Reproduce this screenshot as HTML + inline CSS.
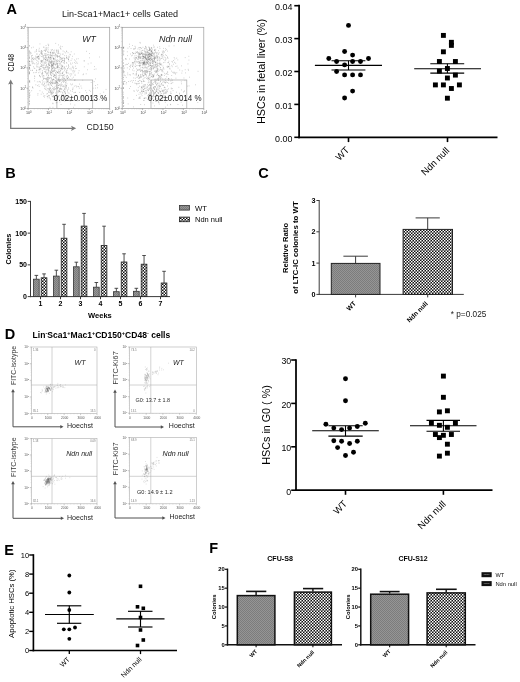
<!DOCTYPE html>
<html lang="en">
<head>
<meta charset="utf-8">
<title>Figure</title>
<style>
html,body{margin:0;padding:0;background:#fff;}
body{width:520px;height:682px;overflow:hidden;}
svg{display:block;font-family:"Liberation Sans",sans-serif;}
</style>
</head>
<body>
<svg width="520" height="682" viewBox="0 0 520 682">
<rect width="520" height="682" fill="#fff"/>
<defs>
<pattern id="chk" width="3" height="3" patternUnits="userSpaceOnUse">
<rect width="3" height="3" fill="#111"/><rect x="0" y="0" width="1.5" height="1.5" fill="#fff"/><rect x="1.5" y="1.5" width="1.5" height="1.5" fill="#fff"/>
</pattern>
<pattern id="chs" width="3" height="3" patternUnits="userSpaceOnUse">
<rect width="3" height="3" fill="#111"/><rect x="0" y="0" width="1.5" height="1.5" fill="#fff"/><rect x="1.5" y="1.5" width="1.5" height="1.5" fill="#fff"/>
</pattern>
<pattern id="gry" width="2" height="2" patternUnits="userSpaceOnUse">
<rect width="2" height="2" fill="#959595"/><rect x="0" y="0" width="1" height="1" fill="#7c7c7c"/><rect x="1" y="1" width="1" height="1" fill="#7c7c7c"/>
</pattern>
</defs>
<text x="6.60" y="14.00" font-size="14.5" font-weight="bold">A</text>
<text x="5.20" y="178.00" font-size="14.5" font-weight="bold">B</text>
<text x="258.30" y="178.40" font-size="14.5" font-weight="bold">C</text>
<text x="4.80" y="339.00" font-size="14.5" font-weight="bold">D</text>
<text x="4.30" y="555.20" font-size="14.5" font-weight="bold">E</text>
<text x="209.30" y="553.20" font-size="14.5" font-weight="bold">F</text>
<text x="62.00" y="17.40" font-size="9" fill="#161616" textLength="116.00" lengthAdjust="spacingAndGlyphs">Lin-Sca1+Mac1+ cells Gated</text>
<path d="M36.2 62.8h.7M59.5 56.6h.7M35.1 59.2h.7M54.1 69.3h.7M36.3 49.5h.7M56.5 64.4h.7M65.2 68.8h.7M48.0 58.1h.7M76.1 59.0h.7M40.9 50.9h.7M50.1 61.5h.7M45.5 59.7h.7M52.0 65.9h.7M60.6 62.4h.7M30.3 65.2h.7M34.2 58.4h.7M33.6 59.7h.7M40.9 61.7h.7M83.8 61.2h.7M57.9 50.1h.7M46.1 65.5h.7M48.1 63.2h.7M50.2 52.3h.7M55.0 54.0h.7M68.8 57.0h.7M56.3 60.6h.7M59.1 55.9h.7M59.6 59.7h.7M62.4 65.8h.7M50.6 54.1h.7M57.2 64.3h.7M66.3 57.9h.7M54.9 64.6h.7M52.1 62.1h.7M51.0 55.6h.7M38.4 56.7h.7M55.3 72.6h.7M59.4 69.1h.7M57.3 66.2h.7M51.0 66.5h.7M67.7 58.4h.7M41.8 75.7h.7M51.7 68.2h.7M58.3 51.6h.7M74.7 75.5h.7M51.0 66.4h.7M50.4 53.3h.7M47.9 63.2h.7M60.8 66.4h.7M49.7 71.1h.7M41.1 66.3h.7M60.8 58.4h.7M30.3 52.3h.7M51.6 64.6h.7M65.4 52.9h.7M49.1 65.5h.7M57.6 79.1h.7M59.6 53.4h.7M44.8 61.9h.7M75.2 66.2h.7M50.3 72.8h.7M48.2 75.1h.7M41.9 56.2h.7M56.7 72.0h.7M56.0 63.0h.7M30.0 53.9h.7M42.7 55.8h.7M55.3 57.9h.7M57.4 61.3h.7M45.6 61.1h.7M53.6 67.3h.7M44.1 58.2h.7M34.8 72.6h.7M64.3 59.5h.7M44.1 50.2h.7M50.9 62.0h.7M72.0 63.1h.7M63.9 62.4h.7M32.2 61.1h.7M32.2 87.5h.7M60.8 65.3h.7M47.8 47.8h.7M55.4 43.4h.7M39.6 69.7h.7M66.4 51.5h.7M33.0 66.7h.7M58.1 52.8h.7M41.8 54.5h.7M36.6 54.4h.7M62.2 66.3h.7M70.7 60.4h.7M47.7 52.4h.7M47.8 49.8h.7M30.4 65.2h.7M64.2 67.6h.7M63.1 62.8h.7M41.6 60.7h.7M45.2 51.3h.7M31.3 47.8h.7M49.0 61.5h.7M44.1 71.5h.7M51.0 65.0h.7M61.9 54.2h.7M41.9 70.5h.7M52.6 68.5h.7M56.7 55.2h.7M41.2 56.5h.7M57.2 67.7h.7M59.7 47.4h.7M48.0 65.1h.7M41.1 62.0h.7M51.5 68.4h.7M40.5 53.3h.7M41.1 74.0h.7M60.6 59.7h.7M51.5 61.3h.7M51.2 58.7h.7M45.6 50.1h.7M42.4 73.2h.7M54.7 61.0h.7M46.8 60.7h.7M52.8 55.3h.7M51.2 62.3h.7M41.2 53.7h.7M38.6 51.4h.7M46.3 55.3h.7M42.6 60.8h.7M60.9 61.4h.7M47.6 55.4h.7M47.7 67.5h.7M45.0 51.0h.7M35.8 51.0h.7M34.5 68.5h.7M52.8 58.5h.7M64.4 55.6h.7M57.0 67.0h.7M32.9 47.2h.7M39.4 67.2h.7M62.7 51.0h.7M60.1 57.7h.7M45.0 55.7h.7M45.7 45.6h.7M38.6 50.0h.7M54.3 77.2h.7M77.8 58.7h.7M31.0 56.4h.7M39.2 75.8h.7M55.1 54.7h.7M58.9 65.0h.7M32.0 55.4h.7M46.6 60.4h.7M50.5 57.6h.7M51.1 55.7h.7M39.7 72.1h.7M52.9 63.9h.7M32.4 58.3h.7M57.7 50.3h.7M60.6 57.6h.7M53.3 59.4h.7M51.4 70.0h.7M44.9 72.6h.7M40.9 52.5h.7M56.6 52.1h.7M45.2 67.4h.7M61.8 46.6h.7M54.4 75.6h.7M61.6 58.9h.7M42.8 57.7h.7M37.0 57.7h.7M47.1 59.1h.7M61.5 58.9h.7M33.8 68.1h.7M37.8 56.3h.7M47.7 57.5h.7M38.6 57.9h.7M72.0 56.3h.7M47.7 69.2h.7M56.9 66.7h.7M58.2 44.9h.7M40.0 61.0h.7M54.3 70.8h.7M54.0 58.6h.7M49.5 58.6h.7M51.7 65.8h.7M45.5 53.7h.7M40.1 68.7h.7M62.6 68.7h.7M58.1 67.3h.7M49.1 65.6h.7M38.1 58.3h.7M41.4 65.8h.7M43.0 59.2h.7M53.3 71.3h.7M40.8 52.5h.7M57.7 51.8h.7M53.9 55.9h.7M48.0 45.7h.7M56.6 56.6h.7M39.7 76.5h.7M56.6 88.6h.7M53.4 57.7h.7M50.2 73.2h.7M48.8 63.9h.7M54.5 53.2h.7M50.5 56.3h.7M36.0 66.8h.7M56.1 61.2h.7M39.6 43.9h.7M54.2 59.7h.7M31.4 59.1h.7M33.1 59.5h.7M50.6 63.2h.7M51.4 61.8h.7M37.1 56.8h.7M43.7 58.2h.7M51.9 65.4h.7M53.3 58.9h.7M73.0 68.7h.7M31.7 62.8h.7M43.6 68.0h.7M38.0 59.1h.7M47.7 59.5h.7M53.9 68.5h.7M48.4 52.1h.7M51.2 64.9h.7M47.3 60.1h.7M63.9 51.9h.7M41.8 54.1h.7M39.0 54.4h.7M68.0 59.5h.7M47.9 77.8h.7M53.3 53.0h.7M66.3 51.0h.7M43.0 47.2h.7M50.1 52.2h.7M48.4 57.3h.7M42.7 67.6h.7M58.9 61.2h.7M39.6 51.4h.7M51.9 79.5h.7M44.3 53.8h.7M41.8 51.3h.7M38.9 58.3h.7M64.2 60.9h.7M43.7 47.2h.7M51.3 60.2h.7M36.2 51.1h.7M48.7 68.4h.7M55.7 62.2h.7M45.7 62.7h.7M49.0 77.7h.7M37.2 56.9h.7M62.4 58.7h.7M64.1 60.5h.7M50.6 57.4h.7M34.6 52.0h.7M72.4 66.3h.7M55.5 68.2h.7M55.1 68.7h.7M46.3 58.4h.7M59.4 57.9h.7M35.1 58.0h.7M43.4 65.0h.7M41.5 51.5h.7M45.6 72.6h.7M48.6 61.6h.7M49.2 62.7h.7M58.8 71.8h.7M31.8 70.5h.7M49.1 57.7h.7M74.3 59.9h.7M69.5 68.8h.7M38.3 63.8h.7M56.8 59.6h.7M47.1 51.4h.7M68.3 59.1h.7M45.0 57.7h.7M40.9 53.8h.7M50.1 62.8h.7M43.8 59.4h.7M34.5 63.9h.7M41.2 61.7h.7M39.6 55.8h.7M51.4 50.7h.7M75.0 61.0h.7M48.3 54.4h.7M65.8 72.0h.7M52.2 49.5h.7M43.8 65.0h.7M43.7 50.6h.7M36.6 53.7h.7M49.2 55.1h.7M49.3 82.6h.7M67.7 52.7h.7M52.7 61.1h.7M47.7 68.6h.7M45.6 57.6h.7M45.2 59.3h.7M62.6 67.0h.7M35.0 56.2h.7M40.7 66.5h.7M51.5 67.5h.7M48.4 45.0h.7M53.8 62.3h.7M54.4 50.1h.7M50.0 54.8h.7M41.9 62.9h.7M52.8 53.3h.7M43.1 69.0h.7M40.0 63.3h.7M66.7 70.3h.7M53.0 62.0h.7M38.0 56.3h.7M45.6 54.0h.7M49.8 57.2h.7M52.6 71.9h.7M56.9 63.9h.7M46.6 48.1h.7M47.9 64.6h.7M38.5 69.9h.7M45.6 63.1h.7M45.7 50.1h.7M70.8 51.8h.7M58.7 56.2h.7M52.0 54.0h.7M44.7 67.5h.7M69.5 54.3h.7M49.2 67.9h.7M42.5 65.7h.7M40.9 64.8h.7M53.7 70.2h.7M52.9 50.9h.7M56.1 51.8h.7M57.0 72.7h.7M55.4 56.1h.7M61.6 62.1h.7M36.0 57.0h.7M64.0 58.4h.7M50.4 57.6h.7M31.4 55.5h.7M52.8 62.1h.7M61.9 66.5h.7M59.8 71.1h.7M44.4 55.3h.7M52.4 73.8h.7M31.4 57.8h.7M41.6 64.5h.7M64.5 58.5h.7M36.1 60.2h.7M46.1 47.9h.7M58.4 56.5h.7M56.3 50.1h.7M60.6 49.2h.7M60.2 46.2h.7M63.6 57.9h.7M32.8 57.8h.7M52.6 52.5h.7M43.9 62.3h.7M44.6 63.5h.7M52.2 68.5h.7M41.9 80.4h.7M57.5 63.1h.7M60.5 68.4h.7M50.2 55.4h.7M59.9 64.1h.7M29.2 50.7h.7M54.0 61.4h.7M52.0 65.5h.7M50.6 73.0h.7M42.9 56.9h.7M52.5 66.4h.7M57.4 72.5h.7M44.1 69.4h.7M54.0 52.2h.7M47.7 76.9h.7M57.3 56.9h.7M41.7 60.6h.7M73.4 67.2h.7M52.4 53.0h.7M36.6 58.2h.7M44.2 84.1h.7M44.9 55.2h.7M61.0 61.4h.7M36.1 70.1h.7M45.8 49.6h.7M52.5 64.3h.7M45.6 65.7h.7M57.7 53.6h.7M47.8 70.1h.7M59.6 71.8h.7M68.6 61.2h.7M60.2 48.5h.7M56.3 63.7h.7M48.1 56.7h.7M37.4 61.0h.7M62.5 57.9h.7M54.7 55.2h.7M51.8 52.4h.7M53.1 58.7h.7M52.4 55.6h.7M36.7 57.2h.7M60.0 73.3h.7M45.7 66.6h.7M57.1 63.7h.7M32.8 62.3h.7M38.9 69.3h.7M57.4 65.5h.7M56.4 50.4h.7M59.3 61.3h.7M47.2 54.5h.7M38.4 56.4h.7M95.2 78.9h.7M57.8 66.4h.7M47.1 66.6h.7M43.6 81.9h.7M51.6 82.5h.7M40.1 82.2h.7M54.7 80.6h.7M53.7 63.5h.7M70.8 69.9h.7M53.2 63.4h.7M57.8 69.3h.7M58.8 77.4h.7M46.1 57.1h.7M60.7 83.8h.7M64.2 61.5h.7M63.0 78.2h.7M58.8 78.3h.7M50.9 75.3h.7M67.1 68.8h.7M36.4 70.6h.7M57.7 53.3h.7M46.3 79.0h.7M53.1 74.1h.7M38.7 81.8h.7M77.9 73.0h.7M45.6 59.8h.7M66.7 75.4h.7M44.8 85.7h.7M65.0 80.7h.7M32.2 70.2h.7M63.2 60.6h.7M67.2 90.0h.7M68.5 66.5h.7M45.9 82.8h.7M68.0 87.8h.7M70.7 73.5h.7M49.8 52.5h.7M65.3 99.1h.7M49.1 67.6h.7M63.5 78.1h.7M37.3 64.0h.7M40.8 94.2h.7M45.8 81.9h.7M80.0 96.1h.7M73.6 92.7h.7M39.0 68.2h.7M45.6 69.3h.7M89.2 57.8h.7M62.4 60.4h.7M72.5 89.0h.7M48.4 95.4h.7M56.1 87.6h.7M59.1 67.5h.7M50.2 71.6h.7M63.1 75.4h.7M85.8 73.8h.7M49.0 64.9h.7M45.0 56.7h.7M42.3 82.1h.7M55.9 71.5h.7M59.7 85.4h.7M63.1 82.4h.7M47.8 69.8h.7M45.0 71.4h.7M44.5 68.3h.7M52.8 70.7h.7M51.6 67.6h.7M72.1 71.0h.7M42.0 74.3h.7M40.9 60.4h.7M56.2 55.1h.7M68.6 56.1h.7M43.4 78.6h.7M29.3 61.5h.7M39.4 69.8h.7M29.5 80.9h.7M53.2 76.5h.7M50.8 49.7h.7M53.1 58.5h.7M55.2 64.0h.7M51.0 70.6h.7M65.1 82.5h.7M42.0 72.0h.7M74.1 80.3h.7M45.6 71.2h.7M50.6 83.2h.7M55.5 77.4h.7M83.8 60.6h.7M41.9 53.2h.7M34.4 80.9h.7M58.9 91.5h.7M29.4 61.5h.7M73.9 86.2h.7M66.6 83.8h.7M55.5 73.2h.7M55.5 82.6h.7M53.0 76.6h.7M74.0 62.6h.7M45.3 78.7h.7M51.7 71.3h.7M82.4 80.2h.7M49.7 84.9h.7M87.8 63.9h.7M46.4 73.8h.7M46.8 96.4h.7M61.9 69.5h.7M61.5 65.1h.7M47.2 73.8h.7M86.1 51.3h.7M60.6 88.5h.7M64.7 95.2h.7M61.0 75.4h.7M53.4 63.8h.7M76.4 62.1h.7M53.5 67.4h.7M44.9 48.1h.7M50.1 74.4h.7M57.0 82.7h.7M53.0 66.1h.7M59.1 80.9h.7M43.3 55.7h.7M41.8 83.7h.7M68.1 64.7h.7M56.5 82.6h.7M72.4 67.6h.7M52.0 88.5h.7M86.4 92.7h.7M40.3 77.0h.7M51.2 72.3h.7M46.5 67.3h.7M55.0 93.0h.7M64.2 78.7h.7M55.4 65.1h.7M52.1 86.6h.7M65.9 95.7h.7M58.5 73.4h.7M34.1 75.9h.7M32.7 88.1h.7M46.9 72.6h.7M37.5 66.4h.7M43.0 84.7h.7M58.3 60.7h.7M30.0 70.4h.7M48.8 60.6h.7M62.8 71.9h.7M56.5 67.0h.7M47.7 67.6h.7M34.3 78.4h.7M60.3 54.9h.7M56.4 86.0h.7M58.2 87.7h.7M51.6 73.0h.7M38.2 62.0h.7M31.4 61.5h.7M58.3 79.3h.7M70.2 76.0h.7M42.2 76.9h.7M53.2 92.7h.7M80.6 86.0h.7M40.3 66.3h.7M57.6 65.7h.7M61.9 81.4h.7M66.0 76.7h.7M43.6 63.1h.7M53.5 87.7h.7M75.6 85.7h.7M59.8 81.1h.7M65.8 88.4h.7M66.2 57.4h.7M67.5 78.6h.7M49.1 78.5h.7M58.8 73.0h.7M33.1 72.7h.7M62.3 73.4h.7M34.5 76.6h.7M64.5 76.1h.7M60.6 69.9h.7M46.5 78.3h.7M50.5 74.9h.7M97.4 84.7h.7M56.9 55.7h.7M56.4 81.7h.7M45.9 69.9h.7M47.4 80.1h.7M72.8 73.0h.7M67.9 77.1h.7M52.4 70.0h.7M44.0 86.4h.7M66.5 63.3h.7M66.0 66.2h.7M35.5 84.8h.7M38.5 84.9h.7M57.7 83.4h.7M61.8 86.5h.7M59.6 80.0h.7M58.3 85.6h.7M50.0 84.0h.7M74.7 74.3h.7M60.8 68.2h.7M51.4 75.8h.7M50.7 63.2h.7M54.7 75.4h.7M59.3 81.4h.7M32.0 86.8h.7M52.9 64.7h.7M50.3 77.7h.7M66.4 70.3h.7M57.2 56.0h.7M57.3 72.3h.7M49.5 82.5h.7M78.4 86.6h.7M44.9 89.2h.7M50.8 72.5h.7M47.6 77.7h.7M62.3 75.5h.7M52.4 71.5h.7M49.9 83.5h.7M48.3 71.1h.7M52.4 64.9h.7M52.1 57.0h.7M60.4 79.7h.7M51.2 89.9h.7M44.5 78.5h.7M61.3 68.0h.7M52.0 82.8h.7M55.9 76.4h.7M73.2 77.2h.7M33.5 63.5h.7M65.9 72.8h.7M41.1 50.6h.7M59.3 90.0h.7M38.9 48.3h.7M61.5 68.0h.7M51.3 69.5h.7M43.4 77.1h.7M67.0 78.3h.7M47.9 84.0h.7M53.7 79.5h.7M43.0 79.4h.7M64.7 88.1h.7M55.5 78.2h.7M47.7 82.3h.7M65.1 85.9h.7M50.1 59.6h.7M54.2 71.0h.7M45.5 79.1h.7M67.3 78.6h.7M69.4 78.8h.7M42.6 65.9h.7M50.6 80.4h.7M67.0 75.8h.7M68.2 65.5h.7M53.7 89.4h.7M60.8 85.1h.7M30.9 53.2h.7M44.0 83.3h.7M76.0 68.4h.7M42.5 61.3h.7M43.7 78.4h.7M51.1 93.3h.7M64.4 66.7h.7M58.2 71.9h.7M65.3 84.0h.7M50.7 82.6h.7M62.4 73.0h.7M58.4 81.0h.7M51.1 65.7h.7M71.4 74.8h.7M47.5 77.7h.7M36.3 72.3h.7M37.7 67.3h.7M32.3 63.7h.7M66.6 72.4h.7M39.6 90.7h.7M47.1 88.6h.7M48.4 57.0h.7M78.7 70.7h.7M64.9 87.0h.7M38.4 72.7h.7M47.8 79.2h.7M55.0 59.8h.7M55.9 81.6h.7M51.4 79.1h.7M48.4 72.2h.7M59.6 75.3h.7M71.4 84.9h.7M65.9 82.0h.7M57.2 61.1h.7M68.7 93.2h.7M58.0 70.9h.7M54.7 86.3h.7M58.8 63.2h.7M53.0 65.0h.7M52.6 63.6h.7M44.1 88.3h.7M68.5 57.3h.7M42.7 67.5h.7M50.2 58.2h.7M66.5 57.1h.7M64.0 81.6h.7M50.5 66.0h.7M56.0 75.0h.7M61.9 72.8h.7M49.9 62.3h.7M46.2 64.5h.7M90.7 63.0h.7M74.7 80.2h.7M57.9 75.7h.7M50.4 90.2h.7M61.7 73.6h.7M53.6 75.4h.7M40.7 68.8h.7M47.3 79.4h.7M62.8 54.1h.7M52.4 83.7h.7M38.8 59.4h.7M67.9 73.1h.7M49.5 59.9h.7M57.4 67.6h.7M57.9 78.2h.7M64.1 70.7h.7M48.5 73.2h.7M54.0 75.1h.7M48.5 70.3h.7M47.8 66.5h.7M57.2 85.9h.7M48.4 79.1h.7M59.6 74.9h.7M63.8 68.2h.7M62.4 77.2h.7M62.8 95.0h.7M41.7 73.3h.7M59.7 63.4h.7M70.5 79.5h.7M45.1 59.7h.7M49.9 98.4h.7M73.1 70.8h.7M41.9 92.1h.7M55.3 83.3h.7M60.9 89.6h.7M58.4 90.7h.7M47.6 97.8h.7M52.6 96.8h.7M61.6 89.2h.7M57.3 88.1h.7M41.7 84.4h.7M59.5 76.1h.7M44.5 95.6h.7M62.5 76.9h.7M59.8 88.3h.7M63.8 86.6h.7M54.4 82.3h.7M57.6 87.5h.7M51.0 85.1h.7M50.2 92.6h.7M48.0 75.4h.7M48.6 96.1h.7M52.2 93.0h.7M61.9 84.9h.7M62.1 92.9h.7M55.8 82.8h.7M55.7 78.3h.7M54.0 83.6h.7M59.6 91.4h.7M51.1 94.6h.7M65.5 89.8h.7M50.3 91.7h.7M36.9 81.8h.7M60.7 104.5h.7M50.3 99.8h.7M74.5 105.0h.7M37.5 95.1h.7M57.7 96.5h.7M54.7 83.4h.7M54.3 100.0h.7M62.8 86.7h.7M59.2 95.4h.7M60.6 88.5h.7M50.9 82.0h.7M52.7 83.6h.7M43.6 75.9h.7M63.1 80.2h.7M45.7 87.0h.7M67.6 99.4h.7M52.9 79.8h.7M51.9 80.7h.7M51.8 91.7h.7M47.7 81.3h.7M54.1 87.9h.7M50.0 81.5h.7M47.1 81.5h.7M60.3 86.8h.7M31.4 90.7h.7M55.6 81.4h.7M54.1 64.2h.7M43.0 96.2h.7M73.1 107.3h.7M50.3 88.0h.7M62.3 79.2h.7M70.0 84.0h.7M58.9 79.5h.7M59.0 88.5h.7M64.7 80.0h.7M56.0 102.7h.7M46.6 90.2h.7M59.6 84.7h.7M54.0 99.3h.7M65.2 93.7h.7M58.2 79.5h.7M56.8 102.6h.7M64.5 78.3h.7M39.5 81.4h.7M57.4 84.1h.7M53.7 90.8h.7M63.3 90.7h.7M66.1 78.0h.7M59.8 92.1h.7M44.2 97.1h.7M43.3 75.5h.7M77.5 100.8h.7M59.1 99.4h.7M65.3 80.2h.7M60.0 99.9h.7M54.8 88.8h.7M52.4 93.8h.7M51.7 83.2h.7M46.3 79.9h.7M57.9 92.3h.7M53.0 79.6h.7M58.8 91.4h.7M66.3 85.4h.7M52.8 92.1h.7M68.4 89.1h.7M55.4 80.7h.7M53.1 95.6h.7M63.0 97.9h.7M42.9 93.7h.7M48.7 92.3h.7M37.0 85.6h.7M49.0 97.8h.7M57.1 98.8h.7M52.6 103.7h.7M52.5 103.2h.7M52.2 80.1h.7M63.3 85.8h.7M55.6 77.5h.7M53.3 88.9h.7M50.4 90.9h.7M37.6 93.6h.7M52.8 99.8h.7M53.3 82.8h.7M52.5 90.2h.7M60.9 85.1h.7M49.7 91.1h.7M62.8 75.0h.7M47.6 82.1h.7M69.9 99.6h.7M62.6 92.9h.7M47.1 96.4h.7M52.5 81.6h.7M71.8 78.2h.7M67.3 91.1h.7M48.7 89.0h.7M49.3 89.1h.7M50.9 78.2h.7M77.6 86.4h.7M64.1 88.7h.7M61.6 78.7h.7M47.7 61.1h.7M64.2 92.7h.7M46.6 94.1h.7M58.0 95.9h.7M61.1 95.0h.7M55.9 85.0h.7M61.9 98.9h.7M46.7 78.2h.7M55.8 102.8h.7M54.4 74.5h.7M62.7 95.1h.7M71.9 91.4h.7M72.1 84.1h.7M63.5 90.2h.7M46.5 85.1h.7M66.9 98.4h.7M53.1 97.0h.7M63.4 96.3h.7M58.5 91.0h.7M49.4 87.1h.7M57.1 82.5h.7M53.8 89.4h.7M57.9 97.0h.7M47.8 84.3h.7M58.3 85.5h.7M58.8 84.8h.7M65.7 87.5h.7M46.9 93.5h.7M69.6 74.2h.7M55.1 88.8h.7M64.5 101.2h.7M54.9 75.7h.7M61.6 97.0h.7M59.9 89.4h.7M49.6 107.3h.7M46.4 75.2h.7M64.1 91.5h.7M61.6 91.8h.7M69.8 101.2h.7M51.7 96.0h.7M46.6 73.7h.7M65.9 85.9h.7M38.8 86.5h.7M50.8 91.9h.7M55.7 82.1h.7M50.4 94.0h.7M48.6 88.6h.7M48.2 91.2h.7M70.6 94.4h.7M65.2 92.9h.7M48.4 85.2h.7M56.7 91.9h.7M51.3 92.8h.7M50.3 88.3h.7M56.1 79.1h.7M64.3 89.6h.7M57.0 88.2h.7M39.1 75.4h.7M48.9 95.6h.7M51.5 92.8h.7M47.8 80.7h.7M52.4 96.5h.7M42.8 85.6h.7M59.4 89.8h.7M56.0 94.6h.7M58.5 80.5h.7M61.3 82.6h.7M62.4 95.8h.7M75.5 63.4h.7M55.2 98.3h.7M73.9 54.0h.7M95.2 85.5h.7M90.8 82.5h.7M31.2 60.1h.7M65.8 71.7h.7M94.1 66.6h.7M66.5 73.4h.7M66.6 58.7h.7M73.9 71.9h.7M71.7 58.8h.7M68.3 59.8h.7M50.9 77.9h.7M79.1 84.1h.7M67.5 68.5h.7M92.2 95.2h.7M57.3 57.1h.7M74.6 79.8h.7M52.6 107.3h.7M32.4 58.7h.7M72.4 89.7h.7M36.4 65.0h.7M92.8 97.7h.7M63.9 74.6h.7M53.0 79.0h.7M42.1 72.9h.7M45.6 89.1h.7M90.2 91.3h.7M79.4 92.4h.7M72.7 87.9h.7M76.2 86.9h.7M50.8 63.0h.7M51.1 85.4h.7M76.9 63.3h.7M51.3 64.2h.7M83.1 74.0h.7M64.1 63.6h.7M66.2 98.2h.7M56.4 68.0h.7M97.3 87.8h.7M48.7 89.1h.7M46.6 80.9h.7M83.9 66.8h.7M55.8 74.1h.7M68.3 67.4h.7M56.6 100.4h.7M93.8 81.6h.7M48.5 64.7h.7M63.2 81.3h.7M95.7 69.0h.7M70.7 68.2h.7M70.6 64.3h.7M74.7 92.4h.7M61.4 68.9h.7M70.2 54.8h.7M99.2 57.0h.7M62.1 60.6h.7M93.9 69.4h.7M59.6 102.0h.7M66.2 62.5h.7M68.1 77.3h.7M55.5 70.5h.7M64.6 85.0h.7M81.4 88.1h.7M66.1 86.2h.7M64.6 91.5h.7M75.1 68.6h.7M89.3 53.5h.7M51.6 61.0h.7M66.0 55.7h.7M47.7 44.2h.7M70.2 63.1h.7M105.7 89.4h.7M48.6 92.5h.7M70.0 90.8h.7M49.2 90.2h.7M87.0 69.8h.7M53.7 67.5h.7M99.2 99.7h.7M64.5 69.2h.7M74.5 70.9h.7M60.2 70.6h.7M82.7 74.7h.7M80.6 96.0h.7M76.2 95.7h.7M90.9 98.5h.7M93.2 96.5h.7M88.9 90.4h.7M74.1 97.0h.7M71.8 96.8h.7M68.9 96.5h.7M71.5 97.3h.7M75.2 92.3h.7M74.1 97.5h.7M65.4 97.8h.7M90.7 96.2h.7M83.7 100.5h.7M70.1 104.0h.7M103.4 92.2h.7M99.8 93.8h.7M92.8 88.2h.7M89.6 98.0h.7M65.3 93.2h.7M67.6 92.8h.7M82.0 96.4h.7M53.0 95.8h.7M82.9 97.8h.7M95.2 88.1h.7M80.6 97.5h.7M85.4 90.6h.7M65.0 96.5h.7M78.9 88.2h.7M81.9 97.3h.7M29.0 81.9h.7M29.4 86.7h.7M29.2 57.9h.7M29.1 74.0h.7M28.9 51.9h.7M29.3 53.8h.7M29.0 81.4h.7M29.3 45.5h.7M29.5 68.8h.7M28.9 55.1h.7M29.3 56.3h.7M29.6 92.2h.7M29.2 58.2h.7M29.5 52.8h.7M29.0 101.1h.7M29.1 101.7h.7M29.1 67.2h.7M28.9 60.3h.7M29.2 93.4h.7M29.3 72.4h.7M29.2 68.3h.7M29.0 73.5h.7M29.1 65.5h.7M29.3 80.4h.7M29.0 69.3h.7M29.0 67.6h.7M29.0 71.7h.7M28.9 103.7h.7M28.9 64.9h.7M29.0 68.2h.7M29.0 81.9h.7M29.1 97.3h.7M29.0 51.8h.7M29.0 46.2h.7M28.9 90.2h.7M29.1 94.3h.7M29.1 64.9h.7M29.0 93.0h.7M28.9 73.3h.7M29.2 67.3h.7M29.4 61.5h.7M29.0 95.6h.7M29.3 104.8h.7M29.1 103.5h.7M29.3 57.7h.7M29.7 95.2h.7M29.1 72.7h.7M29.1 97.3h.7M29.0 101.0h.7M29.1 99.0h.7M29.0 63.0h.7M28.9 63.4h.7M29.5 82.2h.7M29.3 96.1h.7M29.1 90.6h.7" stroke="#555" stroke-width=".7" stroke-opacity=".5" fill="none"/>
<rect x="28.10" y="27.30" width="81.60" height="81.20" fill="none" stroke="#9a9a9a" stroke-width="0.7" />
<rect x="56.90" y="80.00" width="35.80" height="28.50" fill="none" stroke="#a8a8a8" stroke-width="0.7" />
<line x1="26.50" y1="108.50" x2="28.10" y2="108.50" stroke="#888" stroke-width="0.6" />
<line x1="28.10" y1="108.50" x2="28.10" y2="110.10" stroke="#888" stroke-width="0.6" />
<text x="25.90" y="109.80" font-size="3.7" text-anchor="end" fill="#444">10<tspan dy="-1.3" font-size="2.6">0</tspan></text>
<text x="28.70" y="114.30" font-size="3.7" text-anchor="middle" fill="#444">10<tspan dy="-1.3" font-size="2.6">0</tspan></text>
<line x1="27.20" y1="102.39" x2="28.10" y2="102.39" stroke="#aaa" stroke-width="0.35" />
<line x1="34.24" y1="108.50" x2="34.24" y2="109.40" stroke="#aaa" stroke-width="0.35" />
<line x1="27.20" y1="98.81" x2="28.10" y2="98.81" stroke="#aaa" stroke-width="0.35" />
<line x1="37.83" y1="108.50" x2="37.83" y2="109.40" stroke="#aaa" stroke-width="0.35" />
<line x1="27.20" y1="96.28" x2="28.10" y2="96.28" stroke="#aaa" stroke-width="0.35" />
<line x1="40.38" y1="108.50" x2="40.38" y2="109.40" stroke="#aaa" stroke-width="0.35" />
<line x1="27.20" y1="94.31" x2="28.10" y2="94.31" stroke="#aaa" stroke-width="0.35" />
<line x1="42.36" y1="108.50" x2="42.36" y2="109.40" stroke="#aaa" stroke-width="0.35" />
<line x1="27.20" y1="92.70" x2="28.10" y2="92.70" stroke="#aaa" stroke-width="0.35" />
<line x1="43.97" y1="108.50" x2="43.97" y2="109.40" stroke="#aaa" stroke-width="0.35" />
<line x1="27.20" y1="91.34" x2="28.10" y2="91.34" stroke="#aaa" stroke-width="0.35" />
<line x1="45.34" y1="108.50" x2="45.34" y2="109.40" stroke="#aaa" stroke-width="0.35" />
<line x1="27.20" y1="90.17" x2="28.10" y2="90.17" stroke="#aaa" stroke-width="0.35" />
<line x1="46.52" y1="108.50" x2="46.52" y2="109.40" stroke="#aaa" stroke-width="0.35" />
<line x1="27.20" y1="89.13" x2="28.10" y2="89.13" stroke="#aaa" stroke-width="0.35" />
<line x1="47.57" y1="108.50" x2="47.57" y2="109.40" stroke="#aaa" stroke-width="0.35" />
<line x1="26.50" y1="88.20" x2="28.10" y2="88.20" stroke="#888" stroke-width="0.6" />
<line x1="48.50" y1="108.50" x2="48.50" y2="110.10" stroke="#888" stroke-width="0.6" />
<text x="25.90" y="89.50" font-size="3.7" text-anchor="end" fill="#444">10<tspan dy="-1.3" font-size="2.6">1</tspan></text>
<text x="49.10" y="114.30" font-size="3.7" text-anchor="middle" fill="#444">10<tspan dy="-1.3" font-size="2.6">1</tspan></text>
<line x1="27.20" y1="82.09" x2="28.10" y2="82.09" stroke="#aaa" stroke-width="0.35" />
<line x1="54.64" y1="108.50" x2="54.64" y2="109.40" stroke="#aaa" stroke-width="0.35" />
<line x1="27.20" y1="78.51" x2="28.10" y2="78.51" stroke="#aaa" stroke-width="0.35" />
<line x1="58.23" y1="108.50" x2="58.23" y2="109.40" stroke="#aaa" stroke-width="0.35" />
<line x1="27.20" y1="75.98" x2="28.10" y2="75.98" stroke="#aaa" stroke-width="0.35" />
<line x1="60.78" y1="108.50" x2="60.78" y2="109.40" stroke="#aaa" stroke-width="0.35" />
<line x1="27.20" y1="74.01" x2="28.10" y2="74.01" stroke="#aaa" stroke-width="0.35" />
<line x1="62.76" y1="108.50" x2="62.76" y2="109.40" stroke="#aaa" stroke-width="0.35" />
<line x1="27.20" y1="72.40" x2="28.10" y2="72.40" stroke="#aaa" stroke-width="0.35" />
<line x1="64.37" y1="108.50" x2="64.37" y2="109.40" stroke="#aaa" stroke-width="0.35" />
<line x1="27.20" y1="71.04" x2="28.10" y2="71.04" stroke="#aaa" stroke-width="0.35" />
<line x1="65.74" y1="108.50" x2="65.74" y2="109.40" stroke="#aaa" stroke-width="0.35" />
<line x1="27.20" y1="69.87" x2="28.10" y2="69.87" stroke="#aaa" stroke-width="0.35" />
<line x1="66.92" y1="108.50" x2="66.92" y2="109.40" stroke="#aaa" stroke-width="0.35" />
<line x1="27.20" y1="68.83" x2="28.10" y2="68.83" stroke="#aaa" stroke-width="0.35" />
<line x1="67.97" y1="108.50" x2="67.97" y2="109.40" stroke="#aaa" stroke-width="0.35" />
<line x1="26.50" y1="67.90" x2="28.10" y2="67.90" stroke="#888" stroke-width="0.6" />
<line x1="68.90" y1="108.50" x2="68.90" y2="110.10" stroke="#888" stroke-width="0.6" />
<text x="25.90" y="69.20" font-size="3.7" text-anchor="end" fill="#444">10<tspan dy="-1.3" font-size="2.6">2</tspan></text>
<text x="69.50" y="114.30" font-size="3.7" text-anchor="middle" fill="#444">10<tspan dy="-1.3" font-size="2.6">2</tspan></text>
<line x1="27.20" y1="61.79" x2="28.10" y2="61.79" stroke="#aaa" stroke-width="0.35" />
<line x1="75.04" y1="108.50" x2="75.04" y2="109.40" stroke="#aaa" stroke-width="0.35" />
<line x1="27.20" y1="58.21" x2="28.10" y2="58.21" stroke="#aaa" stroke-width="0.35" />
<line x1="78.63" y1="108.50" x2="78.63" y2="109.40" stroke="#aaa" stroke-width="0.35" />
<line x1="27.20" y1="55.68" x2="28.10" y2="55.68" stroke="#aaa" stroke-width="0.35" />
<line x1="81.18" y1="108.50" x2="81.18" y2="109.40" stroke="#aaa" stroke-width="0.35" />
<line x1="27.20" y1="53.71" x2="28.10" y2="53.71" stroke="#aaa" stroke-width="0.35" />
<line x1="83.16" y1="108.50" x2="83.16" y2="109.40" stroke="#aaa" stroke-width="0.35" />
<line x1="27.20" y1="52.10" x2="28.10" y2="52.10" stroke="#aaa" stroke-width="0.35" />
<line x1="84.77" y1="108.50" x2="84.77" y2="109.40" stroke="#aaa" stroke-width="0.35" />
<line x1="27.20" y1="50.74" x2="28.10" y2="50.74" stroke="#aaa" stroke-width="0.35" />
<line x1="86.14" y1="108.50" x2="86.14" y2="109.40" stroke="#aaa" stroke-width="0.35" />
<line x1="27.20" y1="49.57" x2="28.10" y2="49.57" stroke="#aaa" stroke-width="0.35" />
<line x1="87.32" y1="108.50" x2="87.32" y2="109.40" stroke="#aaa" stroke-width="0.35" />
<line x1="27.20" y1="48.53" x2="28.10" y2="48.53" stroke="#aaa" stroke-width="0.35" />
<line x1="88.37" y1="108.50" x2="88.37" y2="109.40" stroke="#aaa" stroke-width="0.35" />
<line x1="26.50" y1="47.60" x2="28.10" y2="47.60" stroke="#888" stroke-width="0.6" />
<line x1="89.30" y1="108.50" x2="89.30" y2="110.10" stroke="#888" stroke-width="0.6" />
<text x="25.90" y="48.90" font-size="3.7" text-anchor="end" fill="#444">10<tspan dy="-1.3" font-size="2.6">3</tspan></text>
<text x="89.90" y="114.30" font-size="3.7" text-anchor="middle" fill="#444">10<tspan dy="-1.3" font-size="2.6">3</tspan></text>
<line x1="27.20" y1="41.49" x2="28.10" y2="41.49" stroke="#aaa" stroke-width="0.35" />
<line x1="95.44" y1="108.50" x2="95.44" y2="109.40" stroke="#aaa" stroke-width="0.35" />
<line x1="27.20" y1="37.91" x2="28.10" y2="37.91" stroke="#aaa" stroke-width="0.35" />
<line x1="99.03" y1="108.50" x2="99.03" y2="109.40" stroke="#aaa" stroke-width="0.35" />
<line x1="27.20" y1="35.38" x2="28.10" y2="35.38" stroke="#aaa" stroke-width="0.35" />
<line x1="101.58" y1="108.50" x2="101.58" y2="109.40" stroke="#aaa" stroke-width="0.35" />
<line x1="27.20" y1="33.41" x2="28.10" y2="33.41" stroke="#aaa" stroke-width="0.35" />
<line x1="103.56" y1="108.50" x2="103.56" y2="109.40" stroke="#aaa" stroke-width="0.35" />
<line x1="27.20" y1="31.80" x2="28.10" y2="31.80" stroke="#aaa" stroke-width="0.35" />
<line x1="105.17" y1="108.50" x2="105.17" y2="109.40" stroke="#aaa" stroke-width="0.35" />
<line x1="27.20" y1="30.44" x2="28.10" y2="30.44" stroke="#aaa" stroke-width="0.35" />
<line x1="106.54" y1="108.50" x2="106.54" y2="109.40" stroke="#aaa" stroke-width="0.35" />
<line x1="27.20" y1="29.27" x2="28.10" y2="29.27" stroke="#aaa" stroke-width="0.35" />
<line x1="107.72" y1="108.50" x2="107.72" y2="109.40" stroke="#aaa" stroke-width="0.35" />
<line x1="27.20" y1="28.23" x2="28.10" y2="28.23" stroke="#aaa" stroke-width="0.35" />
<line x1="108.77" y1="108.50" x2="108.77" y2="109.40" stroke="#aaa" stroke-width="0.35" />
<line x1="26.50" y1="27.30" x2="28.10" y2="27.30" stroke="#888" stroke-width="0.6" />
<line x1="109.70" y1="108.50" x2="109.70" y2="110.10" stroke="#888" stroke-width="0.6" />
<text x="25.90" y="28.60" font-size="3.7" text-anchor="end" fill="#444">10<tspan dy="-1.3" font-size="2.6">4</tspan></text>
<text x="110.30" y="114.30" font-size="3.7" text-anchor="middle" fill="#444">10<tspan dy="-1.3" font-size="2.6">4</tspan></text>
<text x="82.30" y="41.60" font-size="8.6" font-style="italic" fill="#1a1a1a" textLength="13.50" lengthAdjust="spacingAndGlyphs">WT</text>
<text x="53.80" y="100.60" font-size="8.2" fill="#222" textLength="53.50" lengthAdjust="spacingAndGlyphs">0.02±0.0013 %</text>
<path d="M162.4 52.4h.7M149.5 56.0h.7M141.0 53.7h.7M143.6 56.5h.7M149.9 63.1h.7M148.6 63.3h.7M150.1 57.9h.7M145.4 51.6h.7M135.8 55.7h.7M145.7 58.6h.7M149.1 50.3h.7M141.9 50.5h.7M153.7 56.9h.7M147.6 52.1h.7M137.9 53.1h.7M146.0 59.3h.7M136.2 57.8h.7M140.8 53.6h.7M144.4 54.4h.7M149.9 61.9h.7M149.1 54.1h.7M149.6 59.1h.7M152.7 58.8h.7M135.6 51.9h.7M143.9 61.6h.7M145.8 61.7h.7M148.7 50.6h.7M147.0 59.9h.7M149.5 49.1h.7M149.6 53.9h.7M132.2 52.7h.7M133.1 48.9h.7M156.6 70.9h.7M154.0 59.8h.7M159.8 59.7h.7M139.9 43.1h.7M153.0 45.2h.7M126.9 51.8h.7M147.2 52.3h.7M153.9 57.0h.7M148.2 59.4h.7M142.7 57.7h.7M162.9 53.1h.7M147.9 59.9h.7M143.0 56.4h.7M134.9 53.6h.7M147.1 63.0h.7M153.4 54.3h.7M139.1 66.3h.7M153.0 47.1h.7M144.4 51.9h.7M142.6 47.3h.7M143.9 53.9h.7M145.2 62.5h.7M148.4 50.5h.7M134.7 53.2h.7M154.9 62.8h.7M142.8 63.0h.7M149.9 54.0h.7M149.9 56.8h.7M139.1 54.1h.7M148.0 64.4h.7M139.7 57.8h.7M147.1 56.8h.7M138.4 63.3h.7M156.0 66.6h.7M150.2 65.5h.7M150.7 62.9h.7M144.6 58.2h.7M144.7 51.2h.7M143.9 50.7h.7M139.2 54.4h.7M142.8 68.1h.7M159.5 64.0h.7M152.6 52.9h.7M149.0 49.4h.7M142.6 54.2h.7M144.4 61.7h.7M141.5 70.0h.7M143.4 61.6h.7M135.9 61.3h.7M138.4 57.6h.7M147.0 61.7h.7M151.4 59.7h.7M146.0 67.9h.7M143.8 57.0h.7M143.7 57.7h.7M140.3 54.4h.7M150.6 54.3h.7M150.3 54.2h.7M157.1 57.2h.7M159.4 60.9h.7M146.1 62.3h.7M155.3 66.2h.7M156.9 62.9h.7M138.8 61.7h.7M146.4 59.4h.7M156.0 53.9h.7M156.5 71.1h.7M151.0 55.8h.7M156.8 59.0h.7M154.5 64.7h.7M136.4 58.1h.7M136.3 52.5h.7M151.3 50.9h.7M142.0 54.2h.7M149.3 59.3h.7M150.2 54.6h.7M141.7 59.0h.7M140.9 52.2h.7M151.9 53.1h.7M140.6 62.8h.7M141.7 67.4h.7M167.0 57.0h.7M151.9 61.6h.7M149.2 47.3h.7M154.0 59.2h.7M145.3 48.0h.7M142.5 56.1h.7M145.2 58.2h.7M144.2 62.4h.7M151.3 51.1h.7M142.7 59.1h.7M143.0 64.5h.7M143.1 58.1h.7M151.2 51.2h.7M155.7 56.6h.7M141.9 52.8h.7M135.0 48.6h.7M157.4 57.2h.7M144.9 58.0h.7M150.9 53.0h.7M145.4 58.4h.7M154.0 59.0h.7M158.6 56.8h.7M144.5 49.2h.7M146.6 60.5h.7M145.2 56.0h.7M140.0 53.3h.7M143.8 56.3h.7M154.4 60.4h.7M153.3 64.0h.7M143.6 64.1h.7M147.2 49.8h.7M142.6 56.2h.7M136.1 68.8h.7M146.5 61.7h.7M138.4 56.9h.7M148.7 53.0h.7M148.6 57.1h.7M149.5 50.6h.7M150.5 55.7h.7M145.5 54.8h.7M163.5 51.7h.7M157.3 64.7h.7M149.7 58.6h.7M150.3 49.2h.7M156.7 56.0h.7M141.6 56.5h.7M127.6 48.2h.7M138.6 47.7h.7M150.9 66.0h.7M146.9 55.2h.7M149.1 54.4h.7M147.7 59.2h.7M145.2 54.6h.7M147.3 57.3h.7M151.5 49.0h.7M138.9 53.6h.7M150.2 50.1h.7M155.2 65.4h.7M141.6 62.6h.7M132.1 55.2h.7M135.4 61.9h.7M152.6 60.1h.7M142.6 50.3h.7M149.6 54.2h.7M151.4 48.4h.7M149.6 59.8h.7M130.7 48.5h.7M141.6 53.1h.7M134.5 55.9h.7M138.6 55.7h.7M133.7 49.2h.7M151.4 47.7h.7M146.2 64.6h.7M152.1 49.9h.7M162.0 54.8h.7M153.0 62.4h.7M144.2 60.0h.7M127.1 55.6h.7M147.6 54.8h.7M147.3 62.6h.7M153.0 53.7h.7M152.0 63.5h.7M147.2 58.8h.7M129.3 46.7h.7M149.1 48.6h.7M152.4 63.5h.7M139.5 49.7h.7M145.0 57.7h.7M152.1 55.8h.7M146.6 51.2h.7M148.4 52.5h.7M153.4 61.0h.7M134.9 57.5h.7M138.7 61.2h.7M139.1 62.9h.7M153.8 67.8h.7M148.6 57.0h.7M154.8 50.5h.7M146.0 54.8h.7M145.9 47.8h.7M134.6 46.3h.7M156.6 55.5h.7M150.7 56.2h.7M144.6 63.5h.7M130.1 54.0h.7M140.8 51.0h.7M135.0 47.2h.7M137.9 61.8h.7M141.5 53.6h.7M145.1 59.8h.7M153.5 58.1h.7M146.3 59.4h.7M140.7 57.3h.7M158.1 53.9h.7M140.3 47.6h.7M146.7 59.9h.7M143.3 54.5h.7M154.5 57.3h.7M151.2 54.9h.7M155.4 62.2h.7M145.3 53.2h.7M164.1 52.1h.7M139.6 42.4h.7M151.1 57.3h.7M145.8 48.2h.7M146.5 52.3h.7M138.2 54.6h.7M148.5 56.0h.7M142.9 60.3h.7M148.1 54.7h.7M150.4 58.6h.7M152.8 61.6h.7M151.6 53.8h.7M155.6 62.8h.7M142.7 63.1h.7M147.1 51.3h.7M146.2 49.7h.7M154.3 50.4h.7M156.6 52.8h.7M145.5 63.5h.7M148.9 47.9h.7M145.5 46.7h.7M151.1 51.5h.7M145.9 55.9h.7M136.0 57.7h.7M158.8 52.7h.7M142.5 58.4h.7M154.9 52.6h.7M147.9 58.8h.7M153.8 52.8h.7M163.6 69.1h.7M137.1 51.7h.7M149.1 53.5h.7M142.9 56.5h.7M141.5 53.1h.7M148.1 54.7h.7M149.1 62.7h.7M154.4 57.9h.7M160.8 55.8h.7M152.8 67.1h.7M148.0 61.4h.7M143.4 53.5h.7M148.1 59.6h.7M149.2 60.7h.7M148.9 56.6h.7M142.5 56.0h.7M147.1 56.9h.7M139.3 63.1h.7M154.3 58.8h.7M143.5 62.6h.7M145.2 55.5h.7M150.9 54.4h.7M147.7 54.4h.7M151.0 59.6h.7M151.8 59.7h.7M149.1 59.2h.7M152.3 52.3h.7M138.9 56.8h.7M148.0 55.8h.7M157.2 60.4h.7M155.5 58.2h.7M137.6 49.0h.7M154.3 57.9h.7M143.6 63.7h.7M158.7 60.1h.7M155.7 56.1h.7M140.5 47.8h.7M154.4 49.4h.7M144.2 57.3h.7M150.9 47.5h.7M145.4 52.6h.7M156.9 56.9h.7M142.5 65.8h.7M148.0 61.4h.7M149.2 56.4h.7M152.0 53.7h.7M137.6 52.9h.7M151.2 55.4h.7M154.2 61.5h.7M148.4 63.1h.7M149.5 59.0h.7M145.1 56.4h.7M146.5 62.6h.7M157.7 63.7h.7M148.7 56.6h.7M148.7 54.2h.7M146.9 55.4h.7M147.0 60.6h.7M139.7 65.9h.7M148.0 54.2h.7M156.6 52.8h.7M165.3 54.8h.7M153.3 65.2h.7M151.7 58.2h.7M139.0 62.4h.7M150.6 73.1h.7M133.7 57.9h.7M146.6 58.2h.7M155.4 49.4h.7M153.8 55.0h.7M143.2 63.1h.7M130.2 67.2h.7M174.5 59.0h.7M136.6 77.4h.7M168.7 46.0h.7M143.3 56.4h.7M149.8 63.1h.7M135.1 59.5h.7M161.6 55.9h.7M150.6 69.8h.7M169.4 68.6h.7M150.8 55.4h.7M150.9 76.4h.7M153.5 75.4h.7M141.9 71.0h.7M144.6 57.5h.7M140.0 74.7h.7M155.1 62.6h.7M144.6 71.3h.7M142.2 74.2h.7M151.7 59.0h.7M145.5 54.3h.7M134.4 58.9h.7M141.7 60.5h.7M138.4 57.5h.7M151.9 52.0h.7M149.1 65.8h.7M162.4 75.0h.7M166.0 73.4h.7M157.5 68.8h.7M146.3 62.9h.7M146.4 54.9h.7M162.4 58.1h.7M152.7 56.4h.7M133.3 73.7h.7M149.6 49.8h.7M156.2 72.6h.7M144.3 70.4h.7M164.3 75.4h.7M155.9 71.5h.7M168.4 66.8h.7M144.5 61.5h.7M188.5 56.3h.7M148.2 47.1h.7M147.4 62.4h.7M146.8 71.2h.7M166.6 66.8h.7M137.8 59.0h.7M148.1 57.4h.7M147.0 68.9h.7M150.6 82.8h.7M127.0 64.5h.7M161.2 54.4h.7M126.3 82.5h.7M160.0 69.5h.7M163.0 55.3h.7M133.4 77.9h.7M149.2 49.1h.7M146.2 78.5h.7M134.3 48.7h.7M146.5 57.8h.7M140.6 61.1h.7M139.7 58.3h.7M160.1 64.6h.7M154.3 47.0h.7M136.1 72.9h.7M149.6 73.5h.7M129.2 69.2h.7M140.5 63.7h.7M138.9 54.8h.7M134.3 62.2h.7M160.9 54.5h.7M140.1 54.5h.7M137.0 69.7h.7M142.2 54.9h.7M156.5 67.4h.7M152.1 65.4h.7M140.2 71.2h.7M139.8 65.7h.7M149.7 74.6h.7M145.7 71.3h.7M126.2 64.3h.7M150.2 65.0h.7M139.8 57.3h.7M167.5 62.6h.7M159.6 48.5h.7M156.5 66.1h.7M151.5 55.3h.7M152.2 62.3h.7M164.9 59.9h.7M127.4 73.0h.7M134.1 61.5h.7M157.3 79.8h.7M154.9 70.9h.7M150.2 65.3h.7M147.1 67.0h.7M136.4 65.6h.7M162.6 66.0h.7M146.1 70.9h.7M136.9 61.7h.7M176.5 72.7h.7M157.6 63.4h.7M138.9 53.4h.7M148.3 76.1h.7M147.2 71.8h.7M144.4 65.0h.7M152.9 91.5h.7M149.7 55.9h.7M159.8 64.5h.7M155.0 57.8h.7M159.4 58.3h.7M153.1 60.8h.7M138.8 69.3h.7M157.0 72.0h.7M150.4 67.5h.7M151.7 67.1h.7M143.8 73.7h.7M163.8 57.1h.7M149.0 55.8h.7M142.4 72.9h.7M148.5 66.2h.7M143.5 85.6h.7M162.8 68.4h.7M150.7 80.4h.7M163.3 67.5h.7M145.9 53.8h.7M165.1 80.5h.7M177.7 68.0h.7M159.4 46.8h.7M156.5 57.8h.7M137.9 56.3h.7M137.3 59.2h.7M155.0 58.1h.7M143.7 62.8h.7M173.4 72.3h.7M140.4 71.2h.7M168.9 63.7h.7M157.3 74.5h.7M130.6 65.0h.7M146.7 71.8h.7M164.7 60.6h.7M129.3 59.0h.7M148.3 58.3h.7M151.3 53.7h.7M154.8 71.3h.7M173.3 64.2h.7M160.8 58.4h.7M139.6 56.8h.7M146.7 52.5h.7M125.8 83.9h.7M144.5 64.1h.7M150.5 60.5h.7M145.5 74.4h.7M151.6 74.5h.7M133.3 68.1h.7M136.8 52.1h.7M157.3 66.8h.7M156.9 70.3h.7M123.7 68.4h.7M171.8 66.7h.7M160.1 77.7h.7M170.2 42.5h.7M144.3 62.7h.7M145.0 74.1h.7M151.6 62.0h.7M161.2 74.7h.7M152.8 76.6h.7M131.9 63.0h.7M131.5 80.6h.7M144.9 72.8h.7M153.9 71.2h.7M160.7 74.8h.7M157.8 65.6h.7M157.2 47.3h.7M136.9 77.0h.7M155.1 51.8h.7M132.4 52.8h.7M143.3 71.8h.7M147.8 71.2h.7M132.1 62.7h.7M150.2 68.1h.7M157.1 65.6h.7M158.3 75.7h.7M154.3 53.7h.7M139.8 56.2h.7M167.4 72.1h.7M148.9 59.0h.7M140.9 77.4h.7M146.1 58.8h.7M138.5 70.0h.7M125.1 58.5h.7M155.8 71.9h.7M155.4 61.8h.7M158.3 79.6h.7M137.7 56.3h.7M143.7 65.0h.7M141.8 58.3h.7M135.2 64.1h.7M141.8 70.3h.7M133.0 53.6h.7M149.1 64.9h.7M142.0 67.6h.7M141.9 60.8h.7M133.5 63.5h.7M159.5 63.3h.7M147.3 72.9h.7M143.0 58.2h.7M149.3 79.3h.7M143.3 63.4h.7M152.1 60.4h.7M143.5 75.6h.7M126.9 67.9h.7M159.5 75.8h.7M151.0 68.7h.7M141.1 48.5h.7M150.8 65.9h.7M153.4 76.3h.7M179.4 70.0h.7M169.5 66.9h.7M152.5 55.7h.7M151.4 59.0h.7M150.9 52.1h.7M161.9 51.2h.7M148.1 66.7h.7M158.4 78.5h.7M133.1 62.5h.7M145.3 64.6h.7M163.3 59.3h.7M135.1 58.2h.7M159.2 57.6h.7M125.6 59.4h.7M162.7 79.1h.7M139.9 58.0h.7M157.5 73.8h.7M148.0 64.9h.7M158.0 50.6h.7M166.0 55.5h.7M124.3 75.1h.7M148.8 71.6h.7M129.0 66.4h.7M151.8 66.3h.7M150.2 63.7h.7M147.5 53.6h.7M173.1 60.5h.7M132.3 66.4h.7M144.9 57.2h.7M187.8 69.3h.7M125.7 58.9h.7M143.2 63.2h.7M155.8 68.8h.7M171.6 61.4h.7M144.5 74.1h.7M163.3 62.6h.7M141.7 74.7h.7M156.5 75.3h.7M162.4 69.8h.7M151.0 66.1h.7M148.7 53.1h.7M155.2 72.6h.7M157.6 58.8h.7M146.1 75.0h.7M162.4 56.8h.7M130.2 65.8h.7M129.9 81.3h.7M146.9 70.9h.7M124.9 64.8h.7M150.9 50.6h.7M171.5 65.4h.7M153.9 61.9h.7M151.2 70.7h.7M153.2 68.4h.7M128.2 63.4h.7M132.4 66.3h.7M138.9 47.6h.7M168.2 62.5h.7M143.8 64.2h.7M145.9 70.2h.7M168.5 61.2h.7M156.4 70.8h.7M132.1 70.0h.7M159.7 63.3h.7M144.0 54.9h.7M160.8 58.4h.7M150.0 51.9h.7M144.1 48.5h.7M137.3 70.5h.7M133.2 53.4h.7M138.0 59.0h.7M132.7 64.5h.7M139.8 69.7h.7M152.6 65.9h.7M151.3 67.8h.7M124.3 81.4h.7M124.9 75.7h.7M129.3 44.2h.7M150.0 60.7h.7M181.3 65.9h.7M138.0 75.6h.7M184.8 57.6h.7M136.7 62.6h.7M131.3 55.8h.7M167.7 74.5h.7M161.1 65.0h.7M163.3 48.4h.7M165.0 50.4h.7M135.1 66.6h.7M132.7 65.3h.7M150.8 73.3h.7M145.7 64.4h.7M143.9 62.6h.7M144.0 62.9h.7M153.9 74.1h.7M137.8 81.3h.7M153.4 76.0h.7M144.6 60.4h.7M175.4 63.3h.7M141.5 83.3h.7M153.0 84.5h.7M167.6 66.1h.7M157.7 69.3h.7M152.4 75.4h.7M140.9 76.4h.7M184.6 80.6h.7M132.0 45.5h.7M129.1 88.5h.7M136.1 71.4h.7M145.2 70.6h.7M145.8 72.6h.7M172.5 82.6h.7M181.1 83.8h.7M156.4 101.5h.7M144.9 92.9h.7M141.6 90.7h.7M156.2 84.8h.7M162.7 71.9h.7M181.5 73.1h.7M163.5 90.1h.7M155.0 87.3h.7M149.1 84.4h.7M144.4 72.7h.7M148.7 82.3h.7M149.8 95.9h.7M144.3 104.7h.7M154.6 79.2h.7M152.3 90.5h.7M147.3 87.2h.7M152.0 61.1h.7M153.7 99.9h.7M141.4 87.3h.7M138.2 90.3h.7M138.7 70.1h.7M154.6 81.4h.7M150.4 98.4h.7M164.0 73.3h.7M160.0 81.2h.7M158.5 75.6h.7M147.8 79.1h.7M140.3 76.5h.7M189.2 77.2h.7M127.5 74.8h.7M145.5 65.9h.7M152.6 74.5h.7M164.1 96.1h.7M132.6 73.8h.7M132.5 62.8h.7M152.1 84.1h.7M145.8 98.1h.7M130.1 75.0h.7M153.8 67.5h.7M150.3 58.0h.7M136.3 75.1h.7M138.1 78.3h.7M156.4 91.5h.7M158.4 71.2h.7M141.3 81.6h.7M143.7 100.5h.7M151.4 72.6h.7M140.2 75.2h.7M148.0 80.9h.7M142.4 70.3h.7M149.3 72.1h.7M138.2 74.8h.7M149.2 74.0h.7M155.9 64.6h.7M152.1 83.9h.7M153.0 75.8h.7M142.7 71.7h.7M133.5 99.5h.7M157.6 83.1h.7M164.6 79.1h.7M155.7 79.1h.7M139.5 52.2h.7M160.8 91.0h.7M160.1 76.4h.7M160.9 88.8h.7M168.4 83.3h.7M165.7 59.0h.7M164.7 87.5h.7M138.0 75.8h.7M159.4 91.6h.7M163.5 91.8h.7M152.7 77.6h.7M159.4 70.1h.7M139.1 83.3h.7M149.8 77.4h.7M167.3 51.1h.7M148.7 85.5h.7M148.9 92.9h.7M135.8 73.5h.7M144.5 71.2h.7M136.3 74.3h.7M139.2 65.1h.7M159.1 77.2h.7M134.8 74.9h.7M158.8 86.8h.7M152.6 91.0h.7M149.2 68.8h.7M143.6 78.3h.7M161.6 71.3h.7M147.8 82.8h.7M174.1 62.3h.7M165.8 81.9h.7M144.4 81.4h.7M139.8 58.6h.7M127.4 98.0h.7M144.7 71.5h.7M149.4 71.7h.7M137.6 83.6h.7M154.7 82.3h.7M133.6 90.6h.7M156.4 89.5h.7M145.8 72.3h.7M133.8 91.4h.7M156.4 64.1h.7M151.2 76.3h.7M153.3 87.6h.7M165.5 82.6h.7M137.7 65.5h.7M140.1 68.0h.7M157.3 70.8h.7M149.4 84.8h.7M144.8 97.8h.7M124.6 81.4h.7M139.4 77.2h.7M149.6 75.2h.7M140.2 77.6h.7M139.0 77.4h.7M142.5 62.9h.7M168.0 78.7h.7M141.4 81.7h.7M161.5 96.4h.7M156.5 85.3h.7M138.8 97.6h.7M144.7 77.5h.7M154.8 86.6h.7M152.7 76.5h.7M153.2 94.9h.7M167.0 86.0h.7M159.9 67.7h.7M146.7 63.6h.7M177.5 59.9h.7M134.7 66.2h.7M145.3 57.0h.7M136.5 84.7h.7M130.1 86.5h.7M157.1 68.8h.7M151.3 69.5h.7M146.9 77.4h.7M149.4 96.7h.7M160.0 91.6h.7M154.1 50.3h.7M148.2 78.6h.7M135.6 83.4h.7M153.9 55.9h.7M164.9 83.0h.7M150.9 68.5h.7M166.0 49.6h.7M143.7 89.8h.7M170.7 83.6h.7M173.7 73.5h.7M138.6 98.4h.7M168.9 79.0h.7M164.6 82.5h.7M151.4 82.8h.7M169.2 64.8h.7M144.6 75.2h.7M142.9 76.0h.7M133.7 70.8h.7M161.4 75.3h.7M151.3 84.2h.7M174.2 72.3h.7M144.0 86.0h.7M159.6 64.9h.7M140.8 70.5h.7M151.8 77.1h.7M163.6 96.9h.7M167.0 72.0h.7M144.7 66.8h.7M141.2 87.5h.7M157.8 54.3h.7M151.8 89.3h.7M132.1 82.2h.7M176.4 58.2h.7M143.6 63.5h.7M155.7 80.1h.7M170.1 80.9h.7M149.0 75.6h.7M167.0 67.4h.7M148.5 69.3h.7M146.8 90.0h.7M144.1 88.4h.7M142.2 64.3h.7M133.3 106.9h.7M151.7 91.3h.7M149.6 79.1h.7M140.8 89.1h.7M161.1 70.0h.7M162.2 91.2h.7M167.1 82.5h.7M167.2 89.9h.7M153.6 58.5h.7M139.6 92.4h.7M142.8 75.8h.7M149.8 69.7h.7M175.0 73.0h.7M172.0 80.1h.7M148.1 78.0h.7M134.9 78.3h.7M159.7 78.9h.7M153.3 68.9h.7M160.8 69.8h.7M145.4 67.8h.7M171.5 80.7h.7M148.0 90.5h.7M147.2 63.7h.7M155.1 83.6h.7M165.3 57.8h.7M142.9 89.5h.7M159.4 76.4h.7M129.4 74.7h.7M142.5 64.8h.7M155.4 67.4h.7M154.0 86.8h.7M146.6 87.7h.7M170.4 93.2h.7M139.8 62.8h.7M140.1 60.6h.7M142.6 79.3h.7M153.4 82.7h.7M171.4 75.5h.7M140.4 65.1h.7M137.8 81.6h.7M171.4 83.2h.7M147.2 78.9h.7M166.8 73.9h.7M161.9 78.9h.7M145.7 88.3h.7M165.5 78.5h.7M142.0 62.8h.7M141.1 91.2h.7M154.5 80.1h.7M160.1 78.8h.7M157.2 69.2h.7M169.7 69.0h.7M163.1 50.9h.7M140.7 63.1h.7M159.5 63.0h.7M134.5 83.1h.7M172.0 88.6h.7M181.1 89.9h.7M137.8 53.0h.7M143.7 68.1h.7M138.0 75.9h.7M172.7 90.6h.7M156.6 84.4h.7M142.7 91.3h.7M142.8 81.5h.7M142.5 71.7h.7M161.9 95.9h.7M133.2 80.5h.7M188.7 85.9h.7M159.1 90.4h.7M157.5 86.4h.7M155.1 64.5h.7M158.6 77.3h.7M172.2 62.1h.7M139.2 98.1h.7M149.0 93.9h.7M144.6 88.4h.7M134.7 60.3h.7M149.8 81.1h.7M148.2 94.6h.7M144.6 86.9h.7M144.6 67.4h.7M162.0 70.7h.7M125.9 77.4h.7M164.3 81.9h.7M143.1 62.4h.7M139.2 80.5h.7M175.5 66.5h.7M151.2 88.9h.7M158.4 78.1h.7M145.0 85.2h.7M150.1 71.4h.7M128.3 81.5h.7M158.8 83.1h.7M141.8 87.9h.7M157.9 90.0h.7M140.5 93.0h.7M161.0 77.9h.7M156.6 89.2h.7M150.8 93.0h.7M161.1 93.5h.7M140.8 94.2h.7M156.4 90.4h.7M166.0 90.1h.7M161.3 99.9h.7M154.7 93.4h.7M149.5 87.9h.7M147.3 84.6h.7M148.2 85.8h.7M149.1 89.0h.7M162.5 82.6h.7M143.7 98.3h.7M162.7 97.6h.7M153.8 92.6h.7M162.8 85.4h.7M149.4 89.0h.7M138.6 94.3h.7M166.7 97.8h.7M148.3 89.0h.7M142.9 89.6h.7M155.6 83.0h.7M160.0 81.8h.7M146.2 90.9h.7M160.1 91.6h.7M140.5 80.7h.7M153.3 93.5h.7M155.7 80.6h.7M156.2 96.6h.7M143.7 84.5h.7M158.3 85.3h.7M158.0 102.7h.7M146.1 93.6h.7M156.5 95.7h.7M155.9 94.4h.7M147.9 90.6h.7M158.2 101.5h.7M158.6 102.4h.7M159.8 92.7h.7M158.9 98.8h.7M137.3 91.2h.7M136.1 95.4h.7M163.5 95.6h.7M159.8 94.2h.7M157.7 88.9h.7M175.9 100.5h.7M164.4 93.0h.7M159.5 99.5h.7M154.3 88.3h.7M164.1 87.2h.7M156.4 94.7h.7M140.0 98.1h.7M156.0 88.3h.7M160.7 84.9h.7M163.1 94.0h.7M149.9 100.0h.7M152.9 87.9h.7M155.0 92.6h.7M137.9 87.6h.7M150.4 102.2h.7M159.3 86.0h.7M153.4 92.0h.7M163.9 99.4h.7M152.7 90.5h.7M139.1 78.6h.7M153.5 87.0h.7M158.9 104.1h.7M151.6 93.0h.7M165.7 93.4h.7M149.9 87.2h.7M159.2 88.3h.7M152.2 96.5h.7M143.4 81.0h.7M154.4 89.4h.7M146.8 86.3h.7M163.5 97.4h.7M154.0 94.0h.7M155.1 91.1h.7M143.3 91.3h.7M155.1 92.5h.7M147.0 99.3h.7M139.1 86.2h.7M143.2 87.0h.7M156.5 91.2h.7M144.4 91.9h.7M162.6 91.0h.7M136.4 90.1h.7M165.6 91.6h.7M157.3 92.7h.7M154.2 93.1h.7M173.8 96.8h.7M139.7 96.6h.7M151.8 96.0h.7M156.0 91.3h.7M154.3 89.6h.7M142.6 91.6h.7M140.9 86.6h.7M164.9 102.3h.7M154.2 96.6h.7M158.3 93.3h.7M143.4 86.6h.7M168.2 88.8h.7M147.4 95.7h.7M145.0 90.6h.7M143.9 98.5h.7M162.2 85.1h.7M146.5 67.9h.7M142.9 91.5h.7M143.0 80.9h.7M146.3 92.6h.7M166.5 92.2h.7M150.5 88.5h.7M141.7 95.7h.7M157.5 87.4h.7M164.5 98.1h.7M159.4 85.1h.7M150.3 85.1h.7M150.3 94.3h.7M164.9 99.8h.7M157.0 83.4h.7M141.8 88.1h.7M153.4 88.6h.7M153.3 95.3h.7M162.6 91.2h.7M150.1 85.4h.7M158.0 80.5h.7M127.8 103.9h.7M167.3 91.4h.7M140.4 104.5h.7M163.6 90.3h.7M144.1 98.2h.7M150.4 94.3h.7M149.3 97.6h.7M141.1 91.4h.7M163.8 87.7h.7M142.3 93.0h.7M155.6 82.1h.7M144.6 94.0h.7M151.4 81.1h.7M149.3 94.3h.7M153.3 92.9h.7M148.7 77.9h.7M150.2 90.4h.7M148.3 94.9h.7M162.3 97.6h.7M162.8 81.6h.7M154.8 86.6h.7M151.4 85.5h.7M143.4 100.4h.7M164.6 93.4h.7M148.0 98.1h.7M153.0 96.0h.7M162.0 90.3h.7M155.3 101.3h.7M159.9 86.4h.7M137.8 83.6h.7M159.7 86.7h.7M147.5 89.3h.7M165.2 107.2h.7M152.8 100.0h.7M153.1 94.7h.7M151.3 98.5h.7M154.3 105.9h.7M145.2 46.4h.7M161.1 75.7h.7M168.0 80.5h.7M167.8 79.2h.7M165.0 92.7h.7M158.9 66.3h.7M142.0 86.2h.7M183.7 91.4h.7M166.4 76.8h.7M167.4 57.4h.7M153.6 66.9h.7M176.2 92.2h.7M173.7 45.8h.7M170.9 88.9h.7M158.3 80.0h.7M142.6 75.8h.7M161.3 83.9h.7M175.6 78.2h.7M161.4 64.0h.7M163.1 85.2h.7M165.5 74.2h.7M187.6 63.9h.7M158.1 93.0h.7M183.2 92.1h.7M197.5 102.5h.7M144.8 84.5h.7M197.7 71.3h.7M173.8 57.6h.7M150.4 87.1h.7M164.6 62.3h.7M184.8 69.7h.7M172.4 72.3h.7M145.1 74.0h.7M158.2 93.0h.7M149.0 74.0h.7M162.9 93.1h.7M154.8 81.6h.7M180.9 81.9h.7M160.3 67.8h.7M171.1 71.1h.7M168.2 78.5h.7M168.1 66.7h.7M187.0 86.1h.7M165.1 89.3h.7M152.4 68.8h.7M176.7 66.1h.7M148.3 57.5h.7M138.9 65.5h.7M161.3 83.7h.7M135.3 80.6h.7M146.2 76.1h.7M188.6 60.1h.7M188.3 70.3h.7M156.8 60.8h.7M167.2 105.0h.7M171.2 99.7h.7M136.3 83.6h.7M154.1 66.2h.7M167.7 66.5h.7M161.8 54.1h.7M185.3 100.5h.7M165.0 48.6h.7M185.1 72.9h.7M167.6 58.5h.7M181.8 70.9h.7M161.3 74.4h.7M157.3 78.7h.7M183.6 78.0h.7M170.9 78.9h.7M175.1 74.1h.7M150.8 94.7h.7M195.2 84.8h.7M158.1 75.6h.7M179.4 99.8h.7M165.8 92.2h.7M170.9 99.1h.7M170.8 93.6h.7M162.2 98.8h.7M150.7 92.2h.7M178.5 87.3h.7M170.2 104.4h.7M164.5 89.8h.7M152.6 103.0h.7M151.8 98.5h.7M156.5 98.6h.7M173.5 100.8h.7M158.5 95.6h.7M152.9 97.0h.7M179.0 93.2h.7M180.8 99.5h.7M182.3 105.2h.7M170.4 104.7h.7M170.5 91.8h.7M179.3 94.0h.7M148.7 99.9h.7M177.6 104.5h.7M179.5 98.0h.7M149.4 98.1h.7M184.3 90.9h.7M180.8 102.3h.7M171.3 99.5h.7M170.9 88.1h.7M160.0 99.8h.7M123.2 97.1h.7M123.2 77.2h.7M123.3 83.8h.7M123.1 79.3h.7M123.2 55.0h.7M123.2 71.1h.7M123.6 67.6h.7M123.1 47.9h.7M123.5 47.1h.7M123.2 66.5h.7M123.2 103.4h.7M123.1 87.7h.7M123.1 97.3h.7M123.2 100.9h.7M123.0 106.4h.7M123.2 69.0h.7M123.1 53.0h.7M123.0 51.0h.7M123.6 51.2h.7M123.2 103.5h.7M123.3 100.4h.7M123.0 98.5h.7M123.1 102.9h.7M123.3 82.2h.7M123.2 63.0h.7M123.1 84.1h.7M123.3 77.6h.7M123.2 72.8h.7M123.3 60.1h.7M123.1 101.9h.7M123.4 48.1h.7M123.5 72.8h.7M123.4 102.3h.7M123.0 83.8h.7M123.1 75.1h.7M123.1 81.7h.7M123.1 48.3h.7M123.2 63.1h.7M123.2 66.0h.7M123.2 94.2h.7M123.3 96.5h.7M123.1 88.5h.7M123.3 88.5h.7M123.5 105.6h.7M123.4 54.4h.7M123.5 84.2h.7M123.3 106.1h.7M123.1 92.2h.7M123.2 87.4h.7M123.6 71.7h.7M123.7 71.7h.7M123.0 47.5h.7M123.3 70.7h.7M123.3 47.3h.7M123.4 65.5h.7" stroke="#555" stroke-width=".7" stroke-opacity=".5" fill="none"/>
<rect x="122.20" y="27.30" width="81.60" height="81.20" fill="none" stroke="#9a9a9a" stroke-width="0.7" />
<rect x="151.00" y="80.00" width="35.80" height="28.50" fill="none" stroke="#a8a8a8" stroke-width="0.7" />
<line x1="120.60" y1="108.50" x2="122.20" y2="108.50" stroke="#888" stroke-width="0.6" />
<line x1="122.20" y1="108.50" x2="122.20" y2="110.10" stroke="#888" stroke-width="0.6" />
<text x="120.00" y="109.80" font-size="3.7" text-anchor="end" fill="#444">10<tspan dy="-1.3" font-size="2.6">0</tspan></text>
<text x="122.80" y="114.30" font-size="3.7" text-anchor="middle" fill="#444">10<tspan dy="-1.3" font-size="2.6">0</tspan></text>
<line x1="121.30" y1="102.39" x2="122.20" y2="102.39" stroke="#aaa" stroke-width="0.35" />
<line x1="128.34" y1="108.50" x2="128.34" y2="109.40" stroke="#aaa" stroke-width="0.35" />
<line x1="121.30" y1="98.81" x2="122.20" y2="98.81" stroke="#aaa" stroke-width="0.35" />
<line x1="131.93" y1="108.50" x2="131.93" y2="109.40" stroke="#aaa" stroke-width="0.35" />
<line x1="121.30" y1="96.28" x2="122.20" y2="96.28" stroke="#aaa" stroke-width="0.35" />
<line x1="134.48" y1="108.50" x2="134.48" y2="109.40" stroke="#aaa" stroke-width="0.35" />
<line x1="121.30" y1="94.31" x2="122.20" y2="94.31" stroke="#aaa" stroke-width="0.35" />
<line x1="136.46" y1="108.50" x2="136.46" y2="109.40" stroke="#aaa" stroke-width="0.35" />
<line x1="121.30" y1="92.70" x2="122.20" y2="92.70" stroke="#aaa" stroke-width="0.35" />
<line x1="138.07" y1="108.50" x2="138.07" y2="109.40" stroke="#aaa" stroke-width="0.35" />
<line x1="121.30" y1="91.34" x2="122.20" y2="91.34" stroke="#aaa" stroke-width="0.35" />
<line x1="139.44" y1="108.50" x2="139.44" y2="109.40" stroke="#aaa" stroke-width="0.35" />
<line x1="121.30" y1="90.17" x2="122.20" y2="90.17" stroke="#aaa" stroke-width="0.35" />
<line x1="140.62" y1="108.50" x2="140.62" y2="109.40" stroke="#aaa" stroke-width="0.35" />
<line x1="121.30" y1="89.13" x2="122.20" y2="89.13" stroke="#aaa" stroke-width="0.35" />
<line x1="141.67" y1="108.50" x2="141.67" y2="109.40" stroke="#aaa" stroke-width="0.35" />
<line x1="120.60" y1="88.20" x2="122.20" y2="88.20" stroke="#888" stroke-width="0.6" />
<line x1="142.60" y1="108.50" x2="142.60" y2="110.10" stroke="#888" stroke-width="0.6" />
<text x="120.00" y="89.50" font-size="3.7" text-anchor="end" fill="#444">10<tspan dy="-1.3" font-size="2.6">1</tspan></text>
<text x="143.20" y="114.30" font-size="3.7" text-anchor="middle" fill="#444">10<tspan dy="-1.3" font-size="2.6">1</tspan></text>
<line x1="121.30" y1="82.09" x2="122.20" y2="82.09" stroke="#aaa" stroke-width="0.35" />
<line x1="148.74" y1="108.50" x2="148.74" y2="109.40" stroke="#aaa" stroke-width="0.35" />
<line x1="121.30" y1="78.51" x2="122.20" y2="78.51" stroke="#aaa" stroke-width="0.35" />
<line x1="152.33" y1="108.50" x2="152.33" y2="109.40" stroke="#aaa" stroke-width="0.35" />
<line x1="121.30" y1="75.98" x2="122.20" y2="75.98" stroke="#aaa" stroke-width="0.35" />
<line x1="154.88" y1="108.50" x2="154.88" y2="109.40" stroke="#aaa" stroke-width="0.35" />
<line x1="121.30" y1="74.01" x2="122.20" y2="74.01" stroke="#aaa" stroke-width="0.35" />
<line x1="156.86" y1="108.50" x2="156.86" y2="109.40" stroke="#aaa" stroke-width="0.35" />
<line x1="121.30" y1="72.40" x2="122.20" y2="72.40" stroke="#aaa" stroke-width="0.35" />
<line x1="158.47" y1="108.50" x2="158.47" y2="109.40" stroke="#aaa" stroke-width="0.35" />
<line x1="121.30" y1="71.04" x2="122.20" y2="71.04" stroke="#aaa" stroke-width="0.35" />
<line x1="159.84" y1="108.50" x2="159.84" y2="109.40" stroke="#aaa" stroke-width="0.35" />
<line x1="121.30" y1="69.87" x2="122.20" y2="69.87" stroke="#aaa" stroke-width="0.35" />
<line x1="161.02" y1="108.50" x2="161.02" y2="109.40" stroke="#aaa" stroke-width="0.35" />
<line x1="121.30" y1="68.83" x2="122.20" y2="68.83" stroke="#aaa" stroke-width="0.35" />
<line x1="162.07" y1="108.50" x2="162.07" y2="109.40" stroke="#aaa" stroke-width="0.35" />
<line x1="120.60" y1="67.90" x2="122.20" y2="67.90" stroke="#888" stroke-width="0.6" />
<line x1="163.00" y1="108.50" x2="163.00" y2="110.10" stroke="#888" stroke-width="0.6" />
<text x="120.00" y="69.20" font-size="3.7" text-anchor="end" fill="#444">10<tspan dy="-1.3" font-size="2.6">2</tspan></text>
<text x="163.60" y="114.30" font-size="3.7" text-anchor="middle" fill="#444">10<tspan dy="-1.3" font-size="2.6">2</tspan></text>
<line x1="121.30" y1="61.79" x2="122.20" y2="61.79" stroke="#aaa" stroke-width="0.35" />
<line x1="169.14" y1="108.50" x2="169.14" y2="109.40" stroke="#aaa" stroke-width="0.35" />
<line x1="121.30" y1="58.21" x2="122.20" y2="58.21" stroke="#aaa" stroke-width="0.35" />
<line x1="172.73" y1="108.50" x2="172.73" y2="109.40" stroke="#aaa" stroke-width="0.35" />
<line x1="121.30" y1="55.68" x2="122.20" y2="55.68" stroke="#aaa" stroke-width="0.35" />
<line x1="175.28" y1="108.50" x2="175.28" y2="109.40" stroke="#aaa" stroke-width="0.35" />
<line x1="121.30" y1="53.71" x2="122.20" y2="53.71" stroke="#aaa" stroke-width="0.35" />
<line x1="177.26" y1="108.50" x2="177.26" y2="109.40" stroke="#aaa" stroke-width="0.35" />
<line x1="121.30" y1="52.10" x2="122.20" y2="52.10" stroke="#aaa" stroke-width="0.35" />
<line x1="178.87" y1="108.50" x2="178.87" y2="109.40" stroke="#aaa" stroke-width="0.35" />
<line x1="121.30" y1="50.74" x2="122.20" y2="50.74" stroke="#aaa" stroke-width="0.35" />
<line x1="180.24" y1="108.50" x2="180.24" y2="109.40" stroke="#aaa" stroke-width="0.35" />
<line x1="121.30" y1="49.57" x2="122.20" y2="49.57" stroke="#aaa" stroke-width="0.35" />
<line x1="181.42" y1="108.50" x2="181.42" y2="109.40" stroke="#aaa" stroke-width="0.35" />
<line x1="121.30" y1="48.53" x2="122.20" y2="48.53" stroke="#aaa" stroke-width="0.35" />
<line x1="182.47" y1="108.50" x2="182.47" y2="109.40" stroke="#aaa" stroke-width="0.35" />
<line x1="120.60" y1="47.60" x2="122.20" y2="47.60" stroke="#888" stroke-width="0.6" />
<line x1="183.40" y1="108.50" x2="183.40" y2="110.10" stroke="#888" stroke-width="0.6" />
<text x="120.00" y="48.90" font-size="3.7" text-anchor="end" fill="#444">10<tspan dy="-1.3" font-size="2.6">3</tspan></text>
<text x="184.00" y="114.30" font-size="3.7" text-anchor="middle" fill="#444">10<tspan dy="-1.3" font-size="2.6">3</tspan></text>
<line x1="121.30" y1="41.49" x2="122.20" y2="41.49" stroke="#aaa" stroke-width="0.35" />
<line x1="189.54" y1="108.50" x2="189.54" y2="109.40" stroke="#aaa" stroke-width="0.35" />
<line x1="121.30" y1="37.91" x2="122.20" y2="37.91" stroke="#aaa" stroke-width="0.35" />
<line x1="193.13" y1="108.50" x2="193.13" y2="109.40" stroke="#aaa" stroke-width="0.35" />
<line x1="121.30" y1="35.38" x2="122.20" y2="35.38" stroke="#aaa" stroke-width="0.35" />
<line x1="195.68" y1="108.50" x2="195.68" y2="109.40" stroke="#aaa" stroke-width="0.35" />
<line x1="121.30" y1="33.41" x2="122.20" y2="33.41" stroke="#aaa" stroke-width="0.35" />
<line x1="197.66" y1="108.50" x2="197.66" y2="109.40" stroke="#aaa" stroke-width="0.35" />
<line x1="121.30" y1="31.80" x2="122.20" y2="31.80" stroke="#aaa" stroke-width="0.35" />
<line x1="199.27" y1="108.50" x2="199.27" y2="109.40" stroke="#aaa" stroke-width="0.35" />
<line x1="121.30" y1="30.44" x2="122.20" y2="30.44" stroke="#aaa" stroke-width="0.35" />
<line x1="200.64" y1="108.50" x2="200.64" y2="109.40" stroke="#aaa" stroke-width="0.35" />
<line x1="121.30" y1="29.27" x2="122.20" y2="29.27" stroke="#aaa" stroke-width="0.35" />
<line x1="201.82" y1="108.50" x2="201.82" y2="109.40" stroke="#aaa" stroke-width="0.35" />
<line x1="121.30" y1="28.23" x2="122.20" y2="28.23" stroke="#aaa" stroke-width="0.35" />
<line x1="202.87" y1="108.50" x2="202.87" y2="109.40" stroke="#aaa" stroke-width="0.35" />
<line x1="120.60" y1="27.30" x2="122.20" y2="27.30" stroke="#888" stroke-width="0.6" />
<line x1="203.80" y1="108.50" x2="203.80" y2="110.10" stroke="#888" stroke-width="0.6" />
<text x="120.00" y="28.60" font-size="3.7" text-anchor="end" fill="#444">10<tspan dy="-1.3" font-size="2.6">4</tspan></text>
<text x="204.40" y="114.30" font-size="3.7" text-anchor="middle" fill="#444">10<tspan dy="-1.3" font-size="2.6">4</tspan></text>
<text x="159.00" y="41.60" font-size="8.6" font-style="italic" fill="#1a1a1a" textLength="33.00" lengthAdjust="spacingAndGlyphs">Ndn null</text>
<text x="148.00" y="100.60" font-size="8.2" fill="#222" textLength="53.50" lengthAdjust="spacingAndGlyphs">0.02±0.0014 %</text>
<text transform="translate(13.90 71.40) rotate(-90)" font-size="8.7" fill="#1a1a1a" textLength="17.40" lengthAdjust="spacingAndGlyphs">CD48</text>
<text x="86.60" y="129.60" font-size="9.2" fill="#222" textLength="27.00" lengthAdjust="spacingAndGlyphs">CD150</text>
<path d="M10.7 83V128.3H72.5" stroke="#7a7a7a" stroke-width="1.3" fill="none"/>
<path d="M8.1 84.6L10.7 79.4L13.3 84.6L10.7 83.4Z" fill="#7a7a7a"/>
<path d="M71 125.7L76.2 128.3L71 130.9L72.2 128.3Z" fill="#7a7a7a"/>
<line x1="299.10" y1="4.85" x2="299.10" y2="138.15" stroke="#000" stroke-width="1.75" />
<line x1="298.25" y1="137.30" x2="497.50" y2="137.30" stroke="#000" stroke-width="1.75" />
<line x1="294.30" y1="137.30" x2="299.10" y2="137.30" stroke="#000" stroke-width="1.6" />
<text x="292.40" y="141.50" font-size="9.6" text-anchor="end" textLength="17.40" lengthAdjust="spacingAndGlyphs">0.00</text>
<line x1="294.30" y1="104.40" x2="299.10" y2="104.40" stroke="#000" stroke-width="1.6" />
<text x="292.40" y="108.60" font-size="9.6" text-anchor="end" textLength="17.40" lengthAdjust="spacingAndGlyphs">0.01</text>
<line x1="294.30" y1="71.50" x2="299.10" y2="71.50" stroke="#000" stroke-width="1.6" />
<text x="292.40" y="75.70" font-size="9.6" text-anchor="end" textLength="17.40" lengthAdjust="spacingAndGlyphs">0.02</text>
<line x1="294.30" y1="38.60" x2="299.10" y2="38.60" stroke="#000" stroke-width="1.6" />
<text x="292.40" y="42.80" font-size="9.6" text-anchor="end" textLength="17.40" lengthAdjust="spacingAndGlyphs">0.03</text>
<line x1="294.30" y1="5.70" x2="299.10" y2="5.70" stroke="#000" stroke-width="1.6" />
<text x="292.40" y="9.90" font-size="9.6" text-anchor="end" textLength="17.40" lengthAdjust="spacingAndGlyphs">0.04</text>
<text transform="translate(264.90 124.00) rotate(-90)" font-size="10.4" textLength="105.00" lengthAdjust="spacingAndGlyphs">HSCs in fetal liver (%)</text>
<line x1="348.50" y1="137.30" x2="348.50" y2="142.10" stroke="#000" stroke-width="1.6" />
<line x1="447.50" y1="137.30" x2="447.50" y2="142.10" stroke="#000" stroke-width="1.6" />
<text transform="translate(350.00 150.60) rotate(-45)" font-size="9.6" text-anchor="end">WT</text>
<text transform="translate(449.90 151.20) rotate(-45)" font-size="9.6" text-anchor="end">Ndn null</text>
<circle cx="348.50" cy="25.40" r="2.45"/>
<circle cx="344.60" cy="51.50" r="2.45"/>
<circle cx="352.60" cy="55.10" r="2.45"/>
<circle cx="328.80" cy="58.50" r="2.45"/>
<circle cx="368.50" cy="58.50" r="2.45"/>
<circle cx="336.60" cy="61.50" r="2.45"/>
<circle cx="352.60" cy="61.50" r="2.45"/>
<circle cx="360.50" cy="61.50" r="2.45"/>
<circle cx="344.60" cy="64.90" r="2.45"/>
<circle cx="336.60" cy="71.50" r="2.45"/>
<circle cx="344.60" cy="74.90" r="2.45"/>
<circle cx="352.60" cy="74.90" r="2.45"/>
<circle cx="360.50" cy="74.90" r="2.45"/>
<circle cx="352.60" cy="91.10" r="2.45"/>
<circle cx="344.60" cy="98.00" r="2.45"/>
<line x1="314.90" y1="65.40" x2="382.00" y2="65.40" stroke="#000" stroke-width="1.1" />
<line x1="331.50" y1="60.80" x2="365.40" y2="60.80" stroke="#000" stroke-width="1.1" />
<line x1="331.50" y1="70.00" x2="365.40" y2="70.00" stroke="#000" stroke-width="1.1" />
<line x1="348.50" y1="60.80" x2="348.50" y2="70.00" stroke="#000" stroke-width="1.1" />
<rect x="440.95" y="32.95" width="4.90" height="4.90"/>
<rect x="448.95" y="39.85" width="4.90" height="4.90"/>
<rect x="448.95" y="42.95" width="4.90" height="4.90"/>
<rect x="440.95" y="49.35" width="4.90" height="4.90"/>
<rect x="436.95" y="59.05" width="4.90" height="4.90"/>
<rect x="452.95" y="59.05" width="4.90" height="4.90"/>
<rect x="444.95" y="66.05" width="4.90" height="4.90"/>
<rect x="436.95" y="68.65" width="4.90" height="4.90"/>
<rect x="452.95" y="72.65" width="4.90" height="4.90"/>
<rect x="444.95" y="75.55" width="4.90" height="4.90"/>
<rect x="432.95" y="82.45" width="4.90" height="4.90"/>
<rect x="440.95" y="82.45" width="4.90" height="4.90"/>
<rect x="456.95" y="82.45" width="4.90" height="4.90"/>
<rect x="448.95" y="86.05" width="4.90" height="4.90"/>
<rect x="444.95" y="95.75" width="4.90" height="4.90"/>
<line x1="414.20" y1="68.80" x2="481.00" y2="68.80" stroke="#000" stroke-width="1.1" />
<line x1="430.30" y1="63.80" x2="464.20" y2="63.80" stroke="#000" stroke-width="1.1" />
<line x1="430.30" y1="73.10" x2="464.20" y2="73.10" stroke="#000" stroke-width="1.1" />
<line x1="447.40" y1="63.80" x2="447.40" y2="73.10" stroke="#000" stroke-width="1.1" />
<line x1="30.50" y1="200.90" x2="30.50" y2="297.10" stroke="#3a3a3a" stroke-width="1" />
<line x1="30.00" y1="296.60" x2="170.00" y2="296.60" stroke="#3a3a3a" stroke-width="1" />
<line x1="27.70" y1="296.60" x2="30.50" y2="296.60" stroke="#3a3a3a" stroke-width="1" />
<text x="27.00" y="299.20" font-size="7" font-weight="bold" text-anchor="end">0</text>
<line x1="27.70" y1="264.87" x2="30.50" y2="264.87" stroke="#3a3a3a" stroke-width="1" />
<text x="27.00" y="267.47" font-size="7" font-weight="bold" text-anchor="end">50</text>
<line x1="27.70" y1="233.13" x2="30.50" y2="233.13" stroke="#3a3a3a" stroke-width="1" />
<text x="27.00" y="235.73" font-size="7" font-weight="bold" text-anchor="end">100</text>
<line x1="27.70" y1="201.40" x2="30.50" y2="201.40" stroke="#3a3a3a" stroke-width="1" />
<text x="27.00" y="204.00" font-size="7" font-weight="bold" text-anchor="end">150</text>
<text transform="translate(10.60 264.60) rotate(-90)" font-size="7.4" font-weight="bold" textLength="31.00" lengthAdjust="spacingAndGlyphs">Colonies</text>
<text x="88.00" y="317.80" font-size="7.6" font-weight="bold" textLength="23.80" lengthAdjust="spacingAndGlyphs">Weeks</text>
<line x1="40.50" y1="296.60" x2="40.50" y2="299.20" stroke="#3a3a3a" stroke-width="1" />
<text x="40.50" y="306.40" font-size="7" font-weight="bold" text-anchor="middle">1</text>
<line x1="36.35" y1="275.40" x2="36.35" y2="279.20" stroke="#3a3a3a" stroke-width="0.9" />
<line x1="34.55" y1="275.40" x2="38.15" y2="275.40" stroke="#3a3a3a" stroke-width="0.9" />
<rect x="33.50" y="279.20" width="5.70" height="17.40" fill="url(#gry)" stroke="#333" stroke-width="0.8" />
<line x1="44.05" y1="273.90" x2="44.05" y2="277.80" stroke="#3a3a3a" stroke-width="0.9" />
<line x1="42.25" y1="273.90" x2="45.85" y2="273.90" stroke="#3a3a3a" stroke-width="0.9" />
<rect x="41.20" y="277.80" width="5.70" height="18.80" fill="url(#chk)" stroke="#222" stroke-width="0.8" />
<line x1="60.50" y1="296.60" x2="60.50" y2="299.20" stroke="#3a3a3a" stroke-width="1" />
<text x="60.50" y="306.40" font-size="7" font-weight="bold" text-anchor="middle">2</text>
<line x1="56.35" y1="270.20" x2="56.35" y2="276.10" stroke="#3a3a3a" stroke-width="0.9" />
<line x1="54.55" y1="270.20" x2="58.15" y2="270.20" stroke="#3a3a3a" stroke-width="0.9" />
<rect x="53.50" y="276.10" width="5.70" height="20.50" fill="url(#gry)" stroke="#333" stroke-width="0.8" />
<line x1="64.05" y1="224.30" x2="64.05" y2="238.20" stroke="#3a3a3a" stroke-width="0.9" />
<line x1="62.25" y1="224.30" x2="65.85" y2="224.30" stroke="#3a3a3a" stroke-width="0.9" />
<rect x="61.20" y="238.20" width="5.70" height="58.40" fill="url(#chk)" stroke="#222" stroke-width="0.8" />
<line x1="80.50" y1="296.60" x2="80.50" y2="299.20" stroke="#3a3a3a" stroke-width="1" />
<text x="80.50" y="306.40" font-size="7" font-weight="bold" text-anchor="middle">3</text>
<line x1="76.35" y1="262.20" x2="76.35" y2="266.80" stroke="#3a3a3a" stroke-width="0.9" />
<line x1="74.55" y1="262.20" x2="78.15" y2="262.20" stroke="#3a3a3a" stroke-width="0.9" />
<rect x="73.50" y="266.80" width="5.70" height="29.80" fill="url(#gry)" stroke="#333" stroke-width="0.8" />
<line x1="84.05" y1="213.40" x2="84.05" y2="226.10" stroke="#3a3a3a" stroke-width="0.9" />
<line x1="82.25" y1="213.40" x2="85.85" y2="213.40" stroke="#3a3a3a" stroke-width="0.9" />
<rect x="81.20" y="226.10" width="5.70" height="70.50" fill="url(#chk)" stroke="#222" stroke-width="0.8" />
<line x1="100.50" y1="296.60" x2="100.50" y2="299.20" stroke="#3a3a3a" stroke-width="1" />
<text x="100.50" y="306.40" font-size="7" font-weight="bold" text-anchor="middle">4</text>
<line x1="96.35" y1="282.50" x2="96.35" y2="287.20" stroke="#3a3a3a" stroke-width="0.9" />
<line x1="94.55" y1="282.50" x2="98.15" y2="282.50" stroke="#3a3a3a" stroke-width="0.9" />
<rect x="93.50" y="287.20" width="5.70" height="9.40" fill="url(#gry)" stroke="#333" stroke-width="0.8" />
<line x1="104.05" y1="226.20" x2="104.05" y2="245.40" stroke="#3a3a3a" stroke-width="0.9" />
<line x1="102.25" y1="226.20" x2="105.85" y2="226.20" stroke="#3a3a3a" stroke-width="0.9" />
<rect x="101.20" y="245.40" width="5.70" height="51.20" fill="url(#chk)" stroke="#222" stroke-width="0.8" />
<line x1="120.50" y1="296.60" x2="120.50" y2="299.20" stroke="#3a3a3a" stroke-width="1" />
<text x="120.50" y="306.40" font-size="7" font-weight="bold" text-anchor="middle">5</text>
<line x1="116.35" y1="288.30" x2="116.35" y2="291.70" stroke="#3a3a3a" stroke-width="0.9" />
<line x1="114.55" y1="288.30" x2="118.15" y2="288.30" stroke="#3a3a3a" stroke-width="0.9" />
<rect x="113.50" y="291.70" width="5.70" height="4.90" fill="url(#gry)" stroke="#333" stroke-width="0.8" />
<line x1="124.05" y1="253.80" x2="124.05" y2="262.00" stroke="#3a3a3a" stroke-width="0.9" />
<line x1="122.25" y1="253.80" x2="125.85" y2="253.80" stroke="#3a3a3a" stroke-width="0.9" />
<rect x="121.20" y="262.00" width="5.70" height="34.60" fill="url(#chk)" stroke="#222" stroke-width="0.8" />
<line x1="140.50" y1="296.60" x2="140.50" y2="299.20" stroke="#3a3a3a" stroke-width="1" />
<text x="140.50" y="306.40" font-size="7" font-weight="bold" text-anchor="middle">6</text>
<line x1="136.35" y1="288.30" x2="136.35" y2="291.30" stroke="#3a3a3a" stroke-width="0.9" />
<line x1="134.55" y1="288.30" x2="138.15" y2="288.30" stroke="#3a3a3a" stroke-width="0.9" />
<rect x="133.50" y="291.30" width="5.70" height="5.30" fill="url(#gry)" stroke="#333" stroke-width="0.8" />
<line x1="144.05" y1="255.50" x2="144.05" y2="264.20" stroke="#3a3a3a" stroke-width="0.9" />
<line x1="142.25" y1="255.50" x2="145.85" y2="255.50" stroke="#3a3a3a" stroke-width="0.9" />
<rect x="141.20" y="264.20" width="5.70" height="32.40" fill="url(#chk)" stroke="#222" stroke-width="0.8" />
<line x1="160.50" y1="296.60" x2="160.50" y2="299.20" stroke="#3a3a3a" stroke-width="1" />
<text x="160.50" y="306.40" font-size="7" font-weight="bold" text-anchor="middle">7</text>
<line x1="164.05" y1="271.30" x2="164.05" y2="283.00" stroke="#3a3a3a" stroke-width="0.9" />
<line x1="162.25" y1="271.30" x2="165.85" y2="271.30" stroke="#3a3a3a" stroke-width="0.9" />
<rect x="161.20" y="283.00" width="5.70" height="13.60" fill="url(#chk)" stroke="#222" stroke-width="0.8" />
<rect x="179.40" y="205.50" width="10.00" height="4.60" fill="url(#gry)" stroke="#333" stroke-width="0.8" />
<rect x="179.40" y="217.10" width="10.00" height="4.60" fill="url(#chk)" stroke="#222" stroke-width="0.8" />
<text x="195.00" y="210.70" font-size="7.6" fill="#000" textLength="12.00" lengthAdjust="spacingAndGlyphs">WT</text>
<text x="195.00" y="222.30" font-size="7.6" fill="#000" textLength="27.50" lengthAdjust="spacingAndGlyphs">Ndn null</text>
<line x1="319.20" y1="200.00" x2="319.20" y2="294.90" stroke="#3a3a3a" stroke-width="1" />
<line x1="318.70" y1="294.40" x2="463.80" y2="294.40" stroke="#3a3a3a" stroke-width="1" />
<line x1="316.40" y1="294.40" x2="319.20" y2="294.40" stroke="#3a3a3a" stroke-width="1" />
<text x="315.60" y="297.00" font-size="7.2" font-weight="bold" text-anchor="end">0</text>
<line x1="316.40" y1="263.10" x2="319.20" y2="263.10" stroke="#3a3a3a" stroke-width="1" />
<text x="315.60" y="265.70" font-size="7.2" font-weight="bold" text-anchor="end">1</text>
<line x1="316.40" y1="231.80" x2="319.20" y2="231.80" stroke="#3a3a3a" stroke-width="1" />
<text x="315.60" y="234.40" font-size="7.2" font-weight="bold" text-anchor="end">2</text>
<line x1="316.40" y1="200.50" x2="319.20" y2="200.50" stroke="#3a3a3a" stroke-width="1" />
<text x="315.60" y="203.10" font-size="7.2" font-weight="bold" text-anchor="end">3</text>
<text transform="translate(287.80 273.00) rotate(-90)" font-size="7.9" font-weight="bold" textLength="50.00" lengthAdjust="spacingAndGlyphs">Relative Ratio</text>
<text transform="translate(297.50 293.80) rotate(-90)" font-size="7.8" font-weight="bold" textLength="92.50" lengthAdjust="spacingAndGlyphs">of LTC-IC colonies to WT</text>
<line x1="355.60" y1="256.20" x2="355.60" y2="263.40" stroke="#3a3a3a" stroke-width="1" />
<line x1="343.40" y1="256.20" x2="367.90" y2="256.20" stroke="#3a3a3a" stroke-width="1" />
<rect x="331.30" y="263.40" width="48.70" height="31.00" fill="url(#gry)" stroke="#222" stroke-width="1" />
<line x1="355.60" y1="294.40" x2="355.60" y2="297.40" stroke="#3a3a3a" stroke-width="1" />
<line x1="427.70" y1="217.90" x2="427.70" y2="229.40" stroke="#3a3a3a" stroke-width="1" />
<line x1="415.60" y1="217.90" x2="439.80" y2="217.90" stroke="#3a3a3a" stroke-width="1" />
<rect x="403.10" y="229.40" width="49.40" height="65.00" fill="url(#chk)" stroke="#222" stroke-width="1" />
<line x1="427.70" y1="294.40" x2="427.70" y2="297.40" stroke="#3a3a3a" stroke-width="1" />
<text transform="translate(356.40 304.00) rotate(-45)" font-size="6.6" font-weight="bold" text-anchor="end">WT</text>
<text transform="translate(428.20 304.10) rotate(-45)" font-size="6.6" font-weight="bold" text-anchor="end">Ndn null</text>
<text x="450.80" y="316.60" font-size="8.2" fill="#222" textLength="35.50" lengthAdjust="spacingAndGlyphs">* p=0.025</text>
<text x="32.6" y="337.8" font-size="8.5" font-weight="bold" textLength="137.6" lengthAdjust="spacingAndGlyphs">Lin<tspan dy="-2.8" font-size="5.6">-</tspan><tspan dy="2.8">Sca1</tspan><tspan dy="-2.8" font-size="5.6">+</tspan><tspan dy="2.8">Mac1</tspan><tspan dy="-2.8" font-size="5.6">+</tspan><tspan dy="2.8">CD150</tspan><tspan dy="-2.8" font-size="5.6">+</tspan><tspan dy="2.8">CD48</tspan><tspan dy="-2.8" font-size="5.6">-</tspan><tspan dy="2.8"> cells</tspan></text>
<path d="M47.7 391.6h.6M46.0 391.7h.6M47.1 389.2h.6M50.5 388.7h.6M47.4 390.8h.6M49.3 388.8h.6M48.4 387.5h.6M46.9 388.9h.6M45.4 387.6h.6M44.9 390.0h.6M47.2 389.0h.6M47.6 387.2h.6M47.4 390.0h.6M48.7 387.6h.6M46.9 386.3h.6M46.7 386.0h.6M45.2 392.2h.6M44.0 392.1h.6M48.0 388.8h.6M48.2 390.2h.6M49.2 388.5h.6M46.6 388.8h.6M45.9 390.0h.6M46.2 391.8h.6M44.5 388.6h.6M46.0 386.4h.6M50.5 384.3h.6M47.0 388.8h.6M50.1 385.2h.6M49.2 387.7h.6M47.3 388.4h.6M48.5 387.2h.6M47.4 390.1h.6M50.4 384.4h.6M49.9 390.3h.6M46.7 390.3h.6M46.8 392.6h.6M47.8 389.0h.6M47.1 389.3h.6M47.2 388.1h.6M50.8 385.1h.6M41.7 391.2h.6M47.3 390.2h.6M47.2 389.4h.6M48.0 391.0h.6M46.8 389.1h.6M50.6 389.4h.6M45.9 394.0h.6M48.7 388.1h.6M45.6 390.6h.6M46.2 388.1h.6M45.4 389.3h.6M49.3 388.2h.6M45.2 391.4h.6M47.6 390.9h.6M49.4 388.6h.6M47.3 389.5h.6M45.7 391.3h.6M49.7 389.1h.6M47.1 389.2h.6M46.3 388.5h.6M46.9 388.3h.6M46.8 387.0h.6M48.1 389.4h.6M45.7 386.2h.6M47.5 391.4h.6M46.3 389.1h.6M46.6 390.9h.6M46.0 391.7h.6M47.0 391.3h.6M47.6 389.1h.6M45.1 389.1h.6M47.1 390.8h.6M47.9 388.2h.6M48.2 391.0h.6M47.3 388.8h.6M46.9 391.1h.6M48.4 387.6h.6M48.1 388.5h.6M46.3 392.0h.6M48.8 387.8h.6M47.6 390.3h.6M46.5 389.6h.6M48.6 386.1h.6M48.0 390.6h.6M48.3 386.9h.6M48.0 387.8h.6M48.4 390.2h.6M47.8 388.1h.6M46.6 391.3h.6M45.4 390.6h.6M51.0 388.1h.6M58.6 387.6h.6M57.6 383.4h.6M40.0 392.5h.6M51.5 387.9h.6M48.8 385.0h.6M46.5 387.2h.6M48.1 391.0h.6M49.2 389.7h.6M46.2 388.5h.6M49.4 388.3h.6M54.1 386.3h.6M56.6 385.7h.6M53.2 386.7h.6M55.6 388.2h.6M50.6 390.3h.6M46.5 387.2h.6M40.9 392.9h.6M46.2 388.2h.6M48.9 393.2h.6M42.1 390.7h.6M47.4 390.4h.6M41.8 389.4h.6M52.4 391.7h.6M55.4 386.2h.6M49.2 388.7h.6M43.5 386.9h.6M52.0 389.0h.6M48.4 391.6h.6M45.0 390.8h.6M49.0 388.9h.6M51.0 389.0h.6M50.1 389.4h.6M56.8 387.1h.6M53.0 389.6h.6M47.6 390.9h.6M45.6 392.0h.6M45.8 388.5h.6M50.3 390.5h.6M62.5 387.3h.6M57.0 385.4h.6M60.7 386.7h.6M53.2 387.9h.6M59.0 385.3h.6M60.2 384.8h.6M53.6 387.2h.6M50.2 386.9h.6M51.2 387.7h.6M54.4 386.9h.6M50.5 386.5h.6M62.7 386.8h.6M48.8 388.0h.6M62.5 385.8h.6M65.1 384.9h.6M57.6 387.8h.6M64.6 387.7h.6M52.5 384.7h.6M60.0 384.7h.6M57.3 385.0h.6M63.3 387.2h.6M60.8 386.4h.6M58.2 386.1h.6M59.9 386.7h.6M60.3 385.9h.6" stroke="#666" stroke-width=".6" stroke-opacity=".5" fill="none"/>
<rect x="31.30" y="347.00" width="65.70" height="66.60" fill="none" stroke="#adadad" stroke-width="0.6" />
<line x1="52.00" y1="347.00" x2="52.00" y2="413.60" stroke="#adadad" stroke-width="0.55" />
<line x1="31.30" y1="385.00" x2="97.00" y2="385.00" stroke="#adadad" stroke-width="0.55" />
<line x1="29.80" y1="413.60" x2="31.30" y2="413.60" stroke="#999" stroke-width="0.5" />
<line x1="31.30" y1="413.60" x2="31.30" y2="415.10" stroke="#999" stroke-width="0.5" />
<text x="29.10" y="414.70" font-size="3.2" text-anchor="end" fill="#555">10<tspan dy="-1.1" font-size="2.3">0</tspan></text>
<text x="31.80" y="419.00" font-size="3.2" text-anchor="middle" fill="#555">0</text>
<line x1="30.50" y1="408.59" x2="31.30" y2="408.59" stroke="#b5b5b5" stroke-width="0.3" />
<line x1="30.50" y1="405.66" x2="31.30" y2="405.66" stroke="#b5b5b5" stroke-width="0.3" />
<line x1="30.50" y1="403.58" x2="31.30" y2="403.58" stroke="#b5b5b5" stroke-width="0.3" />
<line x1="30.50" y1="401.96" x2="31.30" y2="401.96" stroke="#b5b5b5" stroke-width="0.3" />
<line x1="30.50" y1="400.64" x2="31.30" y2="400.64" stroke="#b5b5b5" stroke-width="0.3" />
<line x1="30.50" y1="399.53" x2="31.30" y2="399.53" stroke="#b5b5b5" stroke-width="0.3" />
<line x1="30.50" y1="398.56" x2="31.30" y2="398.56" stroke="#b5b5b5" stroke-width="0.3" />
<line x1="30.50" y1="397.71" x2="31.30" y2="397.71" stroke="#b5b5b5" stroke-width="0.3" />
<line x1="34.59" y1="413.60" x2="34.59" y2="414.40" stroke="#b5b5b5" stroke-width="0.3" />
<line x1="37.87" y1="413.60" x2="37.87" y2="414.40" stroke="#b5b5b5" stroke-width="0.3" />
<line x1="41.16" y1="413.60" x2="41.16" y2="414.40" stroke="#b5b5b5" stroke-width="0.3" />
<line x1="44.44" y1="413.60" x2="44.44" y2="414.40" stroke="#b5b5b5" stroke-width="0.3" />
<line x1="29.80" y1="396.95" x2="31.30" y2="396.95" stroke="#999" stroke-width="0.5" />
<line x1="47.73" y1="413.60" x2="47.73" y2="415.10" stroke="#999" stroke-width="0.5" />
<text x="29.10" y="398.05" font-size="3.2" text-anchor="end" fill="#555">10<tspan dy="-1.1" font-size="2.3">1</tspan></text>
<text x="48.23" y="419.00" font-size="3.2" text-anchor="middle" fill="#555">1000</text>
<line x1="30.50" y1="391.94" x2="31.30" y2="391.94" stroke="#b5b5b5" stroke-width="0.3" />
<line x1="30.50" y1="389.01" x2="31.30" y2="389.01" stroke="#b5b5b5" stroke-width="0.3" />
<line x1="30.50" y1="386.93" x2="31.30" y2="386.93" stroke="#b5b5b5" stroke-width="0.3" />
<line x1="30.50" y1="385.31" x2="31.30" y2="385.31" stroke="#b5b5b5" stroke-width="0.3" />
<line x1="30.50" y1="383.99" x2="31.30" y2="383.99" stroke="#b5b5b5" stroke-width="0.3" />
<line x1="30.50" y1="382.88" x2="31.30" y2="382.88" stroke="#b5b5b5" stroke-width="0.3" />
<line x1="30.50" y1="381.91" x2="31.30" y2="381.91" stroke="#b5b5b5" stroke-width="0.3" />
<line x1="30.50" y1="381.06" x2="31.30" y2="381.06" stroke="#b5b5b5" stroke-width="0.3" />
<line x1="51.01" y1="413.60" x2="51.01" y2="414.40" stroke="#b5b5b5" stroke-width="0.3" />
<line x1="54.30" y1="413.60" x2="54.30" y2="414.40" stroke="#b5b5b5" stroke-width="0.3" />
<line x1="57.58" y1="413.60" x2="57.58" y2="414.40" stroke="#b5b5b5" stroke-width="0.3" />
<line x1="60.87" y1="413.60" x2="60.87" y2="414.40" stroke="#b5b5b5" stroke-width="0.3" />
<line x1="29.80" y1="380.30" x2="31.30" y2="380.30" stroke="#999" stroke-width="0.5" />
<line x1="64.15" y1="413.60" x2="64.15" y2="415.10" stroke="#999" stroke-width="0.5" />
<text x="29.10" y="381.40" font-size="3.2" text-anchor="end" fill="#555">10<tspan dy="-1.1" font-size="2.3">2</tspan></text>
<text x="64.65" y="419.00" font-size="3.2" text-anchor="middle" fill="#555">2000</text>
<line x1="30.50" y1="375.29" x2="31.30" y2="375.29" stroke="#b5b5b5" stroke-width="0.3" />
<line x1="30.50" y1="372.36" x2="31.30" y2="372.36" stroke="#b5b5b5" stroke-width="0.3" />
<line x1="30.50" y1="370.28" x2="31.30" y2="370.28" stroke="#b5b5b5" stroke-width="0.3" />
<line x1="30.50" y1="368.66" x2="31.30" y2="368.66" stroke="#b5b5b5" stroke-width="0.3" />
<line x1="30.50" y1="367.34" x2="31.30" y2="367.34" stroke="#b5b5b5" stroke-width="0.3" />
<line x1="30.50" y1="366.23" x2="31.30" y2="366.23" stroke="#b5b5b5" stroke-width="0.3" />
<line x1="30.50" y1="365.26" x2="31.30" y2="365.26" stroke="#b5b5b5" stroke-width="0.3" />
<line x1="30.50" y1="364.41" x2="31.30" y2="364.41" stroke="#b5b5b5" stroke-width="0.3" />
<line x1="67.44" y1="413.60" x2="67.44" y2="414.40" stroke="#b5b5b5" stroke-width="0.3" />
<line x1="70.72" y1="413.60" x2="70.72" y2="414.40" stroke="#b5b5b5" stroke-width="0.3" />
<line x1="74.01" y1="413.60" x2="74.01" y2="414.40" stroke="#b5b5b5" stroke-width="0.3" />
<line x1="77.29" y1="413.60" x2="77.29" y2="414.40" stroke="#b5b5b5" stroke-width="0.3" />
<line x1="29.80" y1="363.65" x2="31.30" y2="363.65" stroke="#999" stroke-width="0.5" />
<line x1="80.58" y1="413.60" x2="80.58" y2="415.10" stroke="#999" stroke-width="0.5" />
<text x="29.10" y="364.75" font-size="3.2" text-anchor="end" fill="#555">10<tspan dy="-1.1" font-size="2.3">3</tspan></text>
<text x="81.08" y="419.00" font-size="3.2" text-anchor="middle" fill="#555">3000</text>
<line x1="30.50" y1="358.64" x2="31.30" y2="358.64" stroke="#b5b5b5" stroke-width="0.3" />
<line x1="30.50" y1="355.71" x2="31.30" y2="355.71" stroke="#b5b5b5" stroke-width="0.3" />
<line x1="30.50" y1="353.63" x2="31.30" y2="353.63" stroke="#b5b5b5" stroke-width="0.3" />
<line x1="30.50" y1="352.01" x2="31.30" y2="352.01" stroke="#b5b5b5" stroke-width="0.3" />
<line x1="30.50" y1="350.69" x2="31.30" y2="350.69" stroke="#b5b5b5" stroke-width="0.3" />
<line x1="30.50" y1="349.58" x2="31.30" y2="349.58" stroke="#b5b5b5" stroke-width="0.3" />
<line x1="30.50" y1="348.61" x2="31.30" y2="348.61" stroke="#b5b5b5" stroke-width="0.3" />
<line x1="30.50" y1="347.76" x2="31.30" y2="347.76" stroke="#b5b5b5" stroke-width="0.3" />
<line x1="83.86" y1="413.60" x2="83.86" y2="414.40" stroke="#b5b5b5" stroke-width="0.3" />
<line x1="87.15" y1="413.60" x2="87.15" y2="414.40" stroke="#b5b5b5" stroke-width="0.3" />
<line x1="90.43" y1="413.60" x2="90.43" y2="414.40" stroke="#b5b5b5" stroke-width="0.3" />
<line x1="93.72" y1="413.60" x2="93.72" y2="414.40" stroke="#b5b5b5" stroke-width="0.3" />
<line x1="29.80" y1="347.00" x2="31.30" y2="347.00" stroke="#999" stroke-width="0.5" />
<line x1="97.00" y1="413.60" x2="97.00" y2="415.10" stroke="#999" stroke-width="0.5" />
<text x="29.10" y="348.10" font-size="3.2" text-anchor="end" fill="#555">10<tspan dy="-1.1" font-size="2.3">4</tspan></text>
<text x="97.50" y="419.00" font-size="3.2" text-anchor="middle" fill="#555">4000</text>
<text x="32.90" y="350.60" font-size="2.8" fill="#777">1.36</text>
<text x="95.60" y="350.60" font-size="2.8" text-anchor="end" fill="#777">0</text>
<text x="32.90" y="412.20" font-size="2.8" fill="#777">85.1</text>
<text x="95.60" y="412.20" font-size="2.8" text-anchor="end" fill="#777">13.5</text>
<text x="74.50" y="365.20" font-size="7.2" font-style="italic" fill="#1c1c1c" textLength="11.20" lengthAdjust="spacingAndGlyphs">WT</text>
<text transform="translate(15.70 385.00) rotate(-90)" font-size="7.6" fill="#383838" textLength="39.00" lengthAdjust="spacingAndGlyphs">FITC-isotype</text>
<path d="M13.0 391.0V426.8H61.5" stroke="#505050" stroke-width="1" fill="none"/>
<path d="M11.2 392.2l1.8 -3.2l1.8 3.2z" fill="#505050"/>
<path d="M60.3 425.0l3.2 1.8l-3.2 1.8z" fill="#505050"/>
<text x="67.00" y="428.10" font-size="7.6" fill="#1c1c1c" textLength="26.00" lengthAdjust="spacingAndGlyphs">Hoechst</text>
<path d="M145.0 374.9h.6M147.0 368.0h.6M146.1 369.1h.6M147.5 377.4h.6M147.8 374.3h.6M146.7 376.4h.6M145.5 379.5h.6M144.9 378.2h.6M147.1 377.4h.6M145.8 387.3h.6M146.4 375.6h.6M146.5 375.7h.6M145.9 377.1h.6M148.5 375.5h.6M146.5 380.5h.6M148.5 374.6h.6M145.6 388.7h.6M144.7 378.4h.6M147.0 386.3h.6M145.3 369.5h.6M147.0 375.1h.6M145.9 380.3h.6M146.5 378.9h.6M145.8 383.7h.6M148.0 376.2h.6M145.8 381.5h.6M146.8 373.2h.6M145.8 382.8h.6M146.2 376.8h.6M146.5 377.6h.6M146.3 370.3h.6M148.2 376.6h.6M145.3 383.0h.6M146.6 377.7h.6M147.5 385.7h.6M146.9 383.7h.6M148.7 371.2h.6M145.7 381.8h.6M144.4 379.1h.6M147.7 380.6h.6M146.9 369.7h.6M148.9 377.2h.6M147.1 379.0h.6M144.4 374.4h.6M145.0 387.2h.6M145.4 378.1h.6M146.0 380.6h.6M146.9 378.4h.6M144.9 367.0h.6M146.5 378.9h.6M147.7 376.0h.6M145.6 380.4h.6M144.6 375.8h.6M145.2 380.4h.6M148.6 378.4h.6M147.6 377.5h.6M146.6 375.8h.6M146.0 368.6h.6M145.0 374.4h.6M147.2 379.6h.6M147.6 382.8h.6M146.0 382.6h.6M148.5 375.5h.6M147.5 376.0h.6M144.5 380.5h.6M145.4 379.5h.6M145.8 379.9h.6M143.9 389.0h.6M147.8 374.9h.6M145.3 379.2h.6M148.5 381.6h.6M147.9 371.2h.6M144.5 389.4h.6M147.5 373.5h.6M145.1 376.1h.6M144.8 388.5h.6M146.5 386.6h.6M147.4 373.7h.6M145.6 393.0h.6M145.3 377.7h.6M149.8 378.9h.6M147.0 387.9h.6M143.1 386.5h.6M144.6 376.6h.6M145.2 388.0h.6M146.7 372.7h.6M144.5 390.4h.6M149.3 373.8h.6M152.4 374.3h.6M144.3 382.8h.6M149.1 386.6h.6M149.3 376.9h.6M145.7 375.3h.6M146.8 378.4h.6M147.6 374.6h.6M145.8 377.9h.6M144.3 377.9h.6M144.7 377.5h.6M148.3 380.3h.6M144.0 386.1h.6M158.3 373.1h.6M156.1 371.1h.6M153.8 373.0h.6M159.3 370.1h.6M155.8 372.8h.6M157.4 371.2h.6M152.7 373.9h.6M152.4 372.0h.6M157.7 374.7h.6M161.6 368.4h.6M156.2 373.4h.6M163.4 369.8h.6M156.1 371.9h.6M155.5 371.3h.6M153.1 372.7h.6M147.1 374.3h.6M159.0 368.1h.6M159.5 367.0h.6M155.3 372.7h.6M152.2 372.3h.6M168.4 363.2h.6M153.8 371.7h.6M157.2 370.9h.6M161.5 370.0h.6M155.1 371.4h.6" stroke="#666" stroke-width=".6" stroke-opacity=".5" fill="none"/>
<rect x="129.50" y="347.00" width="66.80" height="66.20" fill="none" stroke="#adadad" stroke-width="0.6" />
<line x1="150.80" y1="347.00" x2="150.80" y2="413.20" stroke="#adadad" stroke-width="0.55" />
<line x1="129.50" y1="385.00" x2="196.30" y2="385.00" stroke="#adadad" stroke-width="0.55" />
<line x1="128.00" y1="413.20" x2="129.50" y2="413.20" stroke="#999" stroke-width="0.5" />
<line x1="129.50" y1="413.20" x2="129.50" y2="414.70" stroke="#999" stroke-width="0.5" />
<text x="127.30" y="414.30" font-size="3.2" text-anchor="end" fill="#555">10<tspan dy="-1.1" font-size="2.3">0</tspan></text>
<text x="130.00" y="418.60" font-size="3.2" text-anchor="middle" fill="#555">0</text>
<line x1="128.70" y1="408.22" x2="129.50" y2="408.22" stroke="#b5b5b5" stroke-width="0.3" />
<line x1="128.70" y1="405.30" x2="129.50" y2="405.30" stroke="#b5b5b5" stroke-width="0.3" />
<line x1="128.70" y1="403.24" x2="129.50" y2="403.24" stroke="#b5b5b5" stroke-width="0.3" />
<line x1="128.70" y1="401.63" x2="129.50" y2="401.63" stroke="#b5b5b5" stroke-width="0.3" />
<line x1="128.70" y1="400.32" x2="129.50" y2="400.32" stroke="#b5b5b5" stroke-width="0.3" />
<line x1="128.70" y1="399.21" x2="129.50" y2="399.21" stroke="#b5b5b5" stroke-width="0.3" />
<line x1="128.70" y1="398.25" x2="129.50" y2="398.25" stroke="#b5b5b5" stroke-width="0.3" />
<line x1="128.70" y1="397.41" x2="129.50" y2="397.41" stroke="#b5b5b5" stroke-width="0.3" />
<line x1="132.84" y1="413.20" x2="132.84" y2="414.00" stroke="#b5b5b5" stroke-width="0.3" />
<line x1="136.18" y1="413.20" x2="136.18" y2="414.00" stroke="#b5b5b5" stroke-width="0.3" />
<line x1="139.52" y1="413.20" x2="139.52" y2="414.00" stroke="#b5b5b5" stroke-width="0.3" />
<line x1="142.86" y1="413.20" x2="142.86" y2="414.00" stroke="#b5b5b5" stroke-width="0.3" />
<line x1="128.00" y1="396.65" x2="129.50" y2="396.65" stroke="#999" stroke-width="0.5" />
<line x1="146.20" y1="413.20" x2="146.20" y2="414.70" stroke="#999" stroke-width="0.5" />
<text x="127.30" y="397.75" font-size="3.2" text-anchor="end" fill="#555">10<tspan dy="-1.1" font-size="2.3">1</tspan></text>
<text x="146.70" y="418.60" font-size="3.2" text-anchor="middle" fill="#555">1000</text>
<line x1="128.70" y1="391.67" x2="129.50" y2="391.67" stroke="#b5b5b5" stroke-width="0.3" />
<line x1="128.70" y1="388.75" x2="129.50" y2="388.75" stroke="#b5b5b5" stroke-width="0.3" />
<line x1="128.70" y1="386.69" x2="129.50" y2="386.69" stroke="#b5b5b5" stroke-width="0.3" />
<line x1="128.70" y1="385.08" x2="129.50" y2="385.08" stroke="#b5b5b5" stroke-width="0.3" />
<line x1="128.70" y1="383.77" x2="129.50" y2="383.77" stroke="#b5b5b5" stroke-width="0.3" />
<line x1="128.70" y1="382.66" x2="129.50" y2="382.66" stroke="#b5b5b5" stroke-width="0.3" />
<line x1="128.70" y1="381.70" x2="129.50" y2="381.70" stroke="#b5b5b5" stroke-width="0.3" />
<line x1="128.70" y1="380.86" x2="129.50" y2="380.86" stroke="#b5b5b5" stroke-width="0.3" />
<line x1="149.54" y1="413.20" x2="149.54" y2="414.00" stroke="#b5b5b5" stroke-width="0.3" />
<line x1="152.88" y1="413.20" x2="152.88" y2="414.00" stroke="#b5b5b5" stroke-width="0.3" />
<line x1="156.22" y1="413.20" x2="156.22" y2="414.00" stroke="#b5b5b5" stroke-width="0.3" />
<line x1="159.56" y1="413.20" x2="159.56" y2="414.00" stroke="#b5b5b5" stroke-width="0.3" />
<line x1="128.00" y1="380.10" x2="129.50" y2="380.10" stroke="#999" stroke-width="0.5" />
<line x1="162.90" y1="413.20" x2="162.90" y2="414.70" stroke="#999" stroke-width="0.5" />
<text x="127.30" y="381.20" font-size="3.2" text-anchor="end" fill="#555">10<tspan dy="-1.1" font-size="2.3">2</tspan></text>
<text x="163.40" y="418.60" font-size="3.2" text-anchor="middle" fill="#555">2000</text>
<line x1="128.70" y1="375.12" x2="129.50" y2="375.12" stroke="#b5b5b5" stroke-width="0.3" />
<line x1="128.70" y1="372.20" x2="129.50" y2="372.20" stroke="#b5b5b5" stroke-width="0.3" />
<line x1="128.70" y1="370.14" x2="129.50" y2="370.14" stroke="#b5b5b5" stroke-width="0.3" />
<line x1="128.70" y1="368.53" x2="129.50" y2="368.53" stroke="#b5b5b5" stroke-width="0.3" />
<line x1="128.70" y1="367.22" x2="129.50" y2="367.22" stroke="#b5b5b5" stroke-width="0.3" />
<line x1="128.70" y1="366.11" x2="129.50" y2="366.11" stroke="#b5b5b5" stroke-width="0.3" />
<line x1="128.70" y1="365.15" x2="129.50" y2="365.15" stroke="#b5b5b5" stroke-width="0.3" />
<line x1="128.70" y1="364.31" x2="129.50" y2="364.31" stroke="#b5b5b5" stroke-width="0.3" />
<line x1="166.24" y1="413.20" x2="166.24" y2="414.00" stroke="#b5b5b5" stroke-width="0.3" />
<line x1="169.58" y1="413.20" x2="169.58" y2="414.00" stroke="#b5b5b5" stroke-width="0.3" />
<line x1="172.92" y1="413.20" x2="172.92" y2="414.00" stroke="#b5b5b5" stroke-width="0.3" />
<line x1="176.26" y1="413.20" x2="176.26" y2="414.00" stroke="#b5b5b5" stroke-width="0.3" />
<line x1="128.00" y1="363.55" x2="129.50" y2="363.55" stroke="#999" stroke-width="0.5" />
<line x1="179.60" y1="413.20" x2="179.60" y2="414.70" stroke="#999" stroke-width="0.5" />
<text x="127.30" y="364.65" font-size="3.2" text-anchor="end" fill="#555">10<tspan dy="-1.1" font-size="2.3">3</tspan></text>
<text x="180.10" y="418.60" font-size="3.2" text-anchor="middle" fill="#555">3000</text>
<line x1="128.70" y1="358.57" x2="129.50" y2="358.57" stroke="#b5b5b5" stroke-width="0.3" />
<line x1="128.70" y1="355.65" x2="129.50" y2="355.65" stroke="#b5b5b5" stroke-width="0.3" />
<line x1="128.70" y1="353.59" x2="129.50" y2="353.59" stroke="#b5b5b5" stroke-width="0.3" />
<line x1="128.70" y1="351.98" x2="129.50" y2="351.98" stroke="#b5b5b5" stroke-width="0.3" />
<line x1="128.70" y1="350.67" x2="129.50" y2="350.67" stroke="#b5b5b5" stroke-width="0.3" />
<line x1="128.70" y1="349.56" x2="129.50" y2="349.56" stroke="#b5b5b5" stroke-width="0.3" />
<line x1="128.70" y1="348.60" x2="129.50" y2="348.60" stroke="#b5b5b5" stroke-width="0.3" />
<line x1="128.70" y1="347.76" x2="129.50" y2="347.76" stroke="#b5b5b5" stroke-width="0.3" />
<line x1="182.94" y1="413.20" x2="182.94" y2="414.00" stroke="#b5b5b5" stroke-width="0.3" />
<line x1="186.28" y1="413.20" x2="186.28" y2="414.00" stroke="#b5b5b5" stroke-width="0.3" />
<line x1="189.62" y1="413.20" x2="189.62" y2="414.00" stroke="#b5b5b5" stroke-width="0.3" />
<line x1="192.96" y1="413.20" x2="192.96" y2="414.00" stroke="#b5b5b5" stroke-width="0.3" />
<line x1="128.00" y1="347.00" x2="129.50" y2="347.00" stroke="#999" stroke-width="0.5" />
<line x1="196.30" y1="413.20" x2="196.30" y2="414.70" stroke="#999" stroke-width="0.5" />
<text x="127.30" y="348.10" font-size="3.2" text-anchor="end" fill="#555">10<tspan dy="-1.1" font-size="2.3">4</tspan></text>
<text x="196.80" y="418.60" font-size="3.2" text-anchor="middle" fill="#555">4000</text>
<text x="131.10" y="350.60" font-size="2.8" fill="#777">74.5</text>
<text x="194.90" y="350.60" font-size="2.8" text-anchor="end" fill="#777">14.2</text>
<text x="131.10" y="411.80" font-size="2.8" fill="#777">13.1</text>
<text x="194.90" y="411.80" font-size="2.8" text-anchor="end" fill="#777">0</text>
<text x="173.00" y="365.20" font-size="7.2" font-style="italic" fill="#1c1c1c" textLength="10.80" lengthAdjust="spacingAndGlyphs">WT</text>
<text x="135.50" y="401.80" font-size="6.1" fill="#2a2a2a" textLength="34.50" lengthAdjust="spacingAndGlyphs">G0: 13.7 ± 1.8</text>
<text transform="translate(117.70 384.50) rotate(-90)" font-size="7.6" fill="#383838" textLength="33.20" lengthAdjust="spacingAndGlyphs">FITC-Ki67</text>
<path d="M115.0 391.5V427.0H162.0" stroke="#505050" stroke-width="1" fill="none"/>
<path d="M113.2 392.7l1.8 -3.2l1.8 3.2z" fill="#505050"/>
<path d="M160.8 425.2l3.2 1.8l-3.2 1.8z" fill="#505050"/>
<text x="168.80" y="428.30" font-size="7.6" fill="#1c1c1c" textLength="25.80" lengthAdjust="spacingAndGlyphs">Hoechst</text>
<path d="M48.2 485.6h.6M49.2 482.7h.6M48.6 481.5h.6M48.6 480.7h.6M46.6 479.7h.6M45.9 482.1h.6M48.6 484.0h.6M48.5 481.5h.6M48.8 480.9h.6M44.9 483.9h.6M47.1 481.8h.6M47.4 486.8h.6M49.5 481.5h.6M46.0 483.3h.6M46.4 483.7h.6M45.4 481.6h.6M49.2 479.2h.6M47.9 481.4h.6M49.2 479.9h.6M48.9 484.9h.6M45.5 480.1h.6M48.5 479.7h.6M45.7 484.5h.6M49.3 482.9h.6M49.5 482.2h.6M46.5 476.9h.6M48.6 478.9h.6M47.9 481.9h.6M45.8 481.0h.6M50.5 482.0h.6M45.3 481.5h.6M47.8 482.3h.6M49.0 480.8h.6M47.4 483.0h.6M45.6 484.0h.6M48.3 480.1h.6M46.9 481.9h.6M45.5 477.2h.6M48.4 483.8h.6M47.5 481.3h.6M47.7 479.3h.6M48.4 482.6h.6M47.8 482.9h.6M46.1 482.0h.6M46.5 480.5h.6M48.1 481.3h.6M49.0 482.0h.6M45.9 484.0h.6M45.2 481.5h.6M48.1 480.8h.6M48.4 480.9h.6M46.1 483.0h.6M47.5 479.3h.6M47.7 480.9h.6M48.1 479.8h.6M47.9 480.6h.6M50.1 479.7h.6M49.6 480.4h.6M49.3 485.0h.6M47.0 481.4h.6M46.2 480.0h.6M46.7 481.4h.6M49.0 482.3h.6M46.9 481.5h.6M45.4 482.7h.6M47.2 479.0h.6M46.5 482.4h.6M47.8 482.2h.6M46.9 481.5h.6M47.2 478.2h.6M47.4 480.8h.6M46.6 482.8h.6M50.9 482.9h.6M47.7 478.8h.6M47.3 479.9h.6M47.8 483.2h.6M47.5 478.3h.6M49.7 480.6h.6M49.7 478.8h.6M51.4 477.7h.6M47.8 482.5h.6M43.7 480.5h.6M45.2 484.9h.6M48.7 478.9h.6M44.9 478.4h.6M47.9 479.4h.6M48.2 479.8h.6M45.0 485.1h.6M48.3 479.5h.6M47.1 483.6h.6M48.9 478.3h.6M49.8 479.3h.6M48.5 478.5h.6M46.6 482.8h.6M45.8 481.6h.6M48.2 479.6h.6M49.8 481.7h.6M47.4 483.0h.6M49.7 482.8h.6M47.4 482.6h.6M48.2 478.8h.6M47.1 485.0h.6M46.4 482.2h.6M50.2 479.6h.6M47.6 479.6h.6M48.4 478.5h.6M48.3 479.3h.6M48.1 477.6h.6M45.9 483.2h.6M48.5 475.0h.6M49.9 478.8h.6M48.9 482.6h.6M47.3 480.3h.6M44.7 482.6h.6M50.4 477.9h.6M49.3 482.0h.6M49.0 478.6h.6M47.4 481.5h.6M50.2 478.6h.6M46.8 479.7h.6M48.9 477.7h.6M47.3 478.6h.6M47.1 482.6h.6M46.8 482.5h.6M46.9 481.1h.6M47.4 479.4h.6M48.2 482.0h.6M46.4 482.6h.6M47.7 480.1h.6M47.8 482.5h.6M48.7 483.5h.6M48.0 481.3h.6M45.3 480.5h.6M48.5 478.7h.6M46.2 484.8h.6M47.5 478.9h.6M44.4 480.1h.6M51.1 480.0h.6M48.5 482.0h.6M46.8 481.8h.6M47.6 480.3h.6M49.1 479.0h.6M46.4 480.0h.6M49.4 479.6h.6M50.3 477.8h.6M46.1 476.4h.6M46.2 481.5h.6M48.6 478.8h.6M46.8 483.8h.6M46.8 481.3h.6M50.6 478.0h.6M52.6 479.5h.6M51.1 479.6h.6M49.3 483.8h.6M49.2 476.2h.6M47.4 480.2h.6M47.8 481.6h.6M42.8 486.6h.6M45.5 484.8h.6M47.1 480.4h.6M48.0 480.2h.6M50.3 483.6h.6M54.6 484.2h.6M44.2 483.6h.6M50.1 480.4h.6M49.5 480.8h.6M44.5 479.8h.6M51.7 480.1h.6M53.2 478.8h.6M46.4 481.7h.6M48.8 483.3h.6M46.6 483.4h.6M49.7 478.5h.6M47.8 480.6h.6M51.9 483.2h.6M50.8 479.1h.6M50.9 480.8h.6M46.4 483.3h.6M45.8 480.8h.6M44.9 478.4h.6M49.7 476.7h.6M46.2 480.6h.6M50.0 478.9h.6M50.9 478.4h.6M45.7 479.5h.6M46.7 479.5h.6M43.6 480.2h.6M45.5 484.3h.6M44.8 482.6h.6M45.3 483.8h.6M48.0 479.6h.6M52.3 483.8h.6M53.6 482.1h.6M48.6 479.2h.6M46.8 480.0h.6M50.2 479.5h.6M49.2 481.3h.6M48.0 479.4h.6M44.8 488.1h.6M48.0 477.1h.6M51.3 478.0h.6M65.2 478.2h.6M52.8 481.1h.6M48.5 480.6h.6M69.6 477.7h.6M61.4 479.2h.6M43.9 479.8h.6M54.4 474.9h.6M60.9 477.4h.6M58.5 479.0h.6M54.2 475.4h.6M54.9 477.5h.6M51.6 477.7h.6M56.9 480.6h.6M57.3 478.8h.6M61.8 478.8h.6M55.9 477.6h.6M51.5 480.1h.6M56.5 480.2h.6M53.3 477.9h.6M58.8 480.4h.6M56.1 477.7h.6M59.3 476.5h.6M62.2 476.4h.6M49.9 479.0h.6M54.4 480.5h.6M60.6 478.9h.6M47.6 479.0h.6M53.0 476.0h.6M65.1 475.3h.6" stroke="#666" stroke-width=".6" stroke-opacity=".5" fill="none"/>
<rect x="31.30" y="438.60" width="65.70" height="65.20" fill="none" stroke="#adadad" stroke-width="0.6" />
<line x1="52.00" y1="438.60" x2="52.00" y2="503.80" stroke="#adadad" stroke-width="0.55" />
<line x1="31.30" y1="476.30" x2="97.00" y2="476.30" stroke="#adadad" stroke-width="0.55" />
<line x1="29.80" y1="503.80" x2="31.30" y2="503.80" stroke="#999" stroke-width="0.5" />
<line x1="31.30" y1="503.80" x2="31.30" y2="505.30" stroke="#999" stroke-width="0.5" />
<text x="29.10" y="504.90" font-size="3.2" text-anchor="end" fill="#555">10<tspan dy="-1.1" font-size="2.3">0</tspan></text>
<text x="31.80" y="509.20" font-size="3.2" text-anchor="middle" fill="#555">0</text>
<line x1="30.50" y1="498.89" x2="31.30" y2="498.89" stroke="#b5b5b5" stroke-width="0.3" />
<line x1="30.50" y1="496.02" x2="31.30" y2="496.02" stroke="#b5b5b5" stroke-width="0.3" />
<line x1="30.50" y1="493.99" x2="31.30" y2="493.99" stroke="#b5b5b5" stroke-width="0.3" />
<line x1="30.50" y1="492.41" x2="31.30" y2="492.41" stroke="#b5b5b5" stroke-width="0.3" />
<line x1="30.50" y1="491.12" x2="31.30" y2="491.12" stroke="#b5b5b5" stroke-width="0.3" />
<line x1="30.50" y1="490.02" x2="31.30" y2="490.02" stroke="#b5b5b5" stroke-width="0.3" />
<line x1="30.50" y1="489.08" x2="31.30" y2="489.08" stroke="#b5b5b5" stroke-width="0.3" />
<line x1="30.50" y1="488.25" x2="31.30" y2="488.25" stroke="#b5b5b5" stroke-width="0.3" />
<line x1="34.59" y1="503.80" x2="34.59" y2="504.60" stroke="#b5b5b5" stroke-width="0.3" />
<line x1="37.87" y1="503.80" x2="37.87" y2="504.60" stroke="#b5b5b5" stroke-width="0.3" />
<line x1="41.16" y1="503.80" x2="41.16" y2="504.60" stroke="#b5b5b5" stroke-width="0.3" />
<line x1="44.44" y1="503.80" x2="44.44" y2="504.60" stroke="#b5b5b5" stroke-width="0.3" />
<line x1="29.80" y1="487.50" x2="31.30" y2="487.50" stroke="#999" stroke-width="0.5" />
<line x1="47.73" y1="503.80" x2="47.73" y2="505.30" stroke="#999" stroke-width="0.5" />
<text x="29.10" y="488.60" font-size="3.2" text-anchor="end" fill="#555">10<tspan dy="-1.1" font-size="2.3">1</tspan></text>
<text x="48.23" y="509.20" font-size="3.2" text-anchor="middle" fill="#555">1000</text>
<line x1="30.50" y1="482.59" x2="31.30" y2="482.59" stroke="#b5b5b5" stroke-width="0.3" />
<line x1="30.50" y1="479.72" x2="31.30" y2="479.72" stroke="#b5b5b5" stroke-width="0.3" />
<line x1="30.50" y1="477.69" x2="31.30" y2="477.69" stroke="#b5b5b5" stroke-width="0.3" />
<line x1="30.50" y1="476.11" x2="31.30" y2="476.11" stroke="#b5b5b5" stroke-width="0.3" />
<line x1="30.50" y1="474.82" x2="31.30" y2="474.82" stroke="#b5b5b5" stroke-width="0.3" />
<line x1="30.50" y1="473.72" x2="31.30" y2="473.72" stroke="#b5b5b5" stroke-width="0.3" />
<line x1="30.50" y1="472.78" x2="31.30" y2="472.78" stroke="#b5b5b5" stroke-width="0.3" />
<line x1="30.50" y1="471.95" x2="31.30" y2="471.95" stroke="#b5b5b5" stroke-width="0.3" />
<line x1="51.01" y1="503.80" x2="51.01" y2="504.60" stroke="#b5b5b5" stroke-width="0.3" />
<line x1="54.30" y1="503.80" x2="54.30" y2="504.60" stroke="#b5b5b5" stroke-width="0.3" />
<line x1="57.58" y1="503.80" x2="57.58" y2="504.60" stroke="#b5b5b5" stroke-width="0.3" />
<line x1="60.87" y1="503.80" x2="60.87" y2="504.60" stroke="#b5b5b5" stroke-width="0.3" />
<line x1="29.80" y1="471.20" x2="31.30" y2="471.20" stroke="#999" stroke-width="0.5" />
<line x1="64.15" y1="503.80" x2="64.15" y2="505.30" stroke="#999" stroke-width="0.5" />
<text x="29.10" y="472.30" font-size="3.2" text-anchor="end" fill="#555">10<tspan dy="-1.1" font-size="2.3">2</tspan></text>
<text x="64.65" y="509.20" font-size="3.2" text-anchor="middle" fill="#555">2000</text>
<line x1="30.50" y1="466.29" x2="31.30" y2="466.29" stroke="#b5b5b5" stroke-width="0.3" />
<line x1="30.50" y1="463.42" x2="31.30" y2="463.42" stroke="#b5b5b5" stroke-width="0.3" />
<line x1="30.50" y1="461.39" x2="31.30" y2="461.39" stroke="#b5b5b5" stroke-width="0.3" />
<line x1="30.50" y1="459.81" x2="31.30" y2="459.81" stroke="#b5b5b5" stroke-width="0.3" />
<line x1="30.50" y1="458.52" x2="31.30" y2="458.52" stroke="#b5b5b5" stroke-width="0.3" />
<line x1="30.50" y1="457.42" x2="31.30" y2="457.42" stroke="#b5b5b5" stroke-width="0.3" />
<line x1="30.50" y1="456.48" x2="31.30" y2="456.48" stroke="#b5b5b5" stroke-width="0.3" />
<line x1="30.50" y1="455.65" x2="31.30" y2="455.65" stroke="#b5b5b5" stroke-width="0.3" />
<line x1="67.44" y1="503.80" x2="67.44" y2="504.60" stroke="#b5b5b5" stroke-width="0.3" />
<line x1="70.72" y1="503.80" x2="70.72" y2="504.60" stroke="#b5b5b5" stroke-width="0.3" />
<line x1="74.01" y1="503.80" x2="74.01" y2="504.60" stroke="#b5b5b5" stroke-width="0.3" />
<line x1="77.29" y1="503.80" x2="77.29" y2="504.60" stroke="#b5b5b5" stroke-width="0.3" />
<line x1="29.80" y1="454.90" x2="31.30" y2="454.90" stroke="#999" stroke-width="0.5" />
<line x1="80.58" y1="503.80" x2="80.58" y2="505.30" stroke="#999" stroke-width="0.5" />
<text x="29.10" y="456.00" font-size="3.2" text-anchor="end" fill="#555">10<tspan dy="-1.1" font-size="2.3">3</tspan></text>
<text x="81.08" y="509.20" font-size="3.2" text-anchor="middle" fill="#555">3000</text>
<line x1="30.50" y1="449.99" x2="31.30" y2="449.99" stroke="#b5b5b5" stroke-width="0.3" />
<line x1="30.50" y1="447.12" x2="31.30" y2="447.12" stroke="#b5b5b5" stroke-width="0.3" />
<line x1="30.50" y1="445.09" x2="31.30" y2="445.09" stroke="#b5b5b5" stroke-width="0.3" />
<line x1="30.50" y1="443.51" x2="31.30" y2="443.51" stroke="#b5b5b5" stroke-width="0.3" />
<line x1="30.50" y1="442.22" x2="31.30" y2="442.22" stroke="#b5b5b5" stroke-width="0.3" />
<line x1="30.50" y1="441.12" x2="31.30" y2="441.12" stroke="#b5b5b5" stroke-width="0.3" />
<line x1="30.50" y1="440.18" x2="31.30" y2="440.18" stroke="#b5b5b5" stroke-width="0.3" />
<line x1="30.50" y1="439.35" x2="31.30" y2="439.35" stroke="#b5b5b5" stroke-width="0.3" />
<line x1="83.86" y1="503.80" x2="83.86" y2="504.60" stroke="#b5b5b5" stroke-width="0.3" />
<line x1="87.15" y1="503.80" x2="87.15" y2="504.60" stroke="#b5b5b5" stroke-width="0.3" />
<line x1="90.43" y1="503.80" x2="90.43" y2="504.60" stroke="#b5b5b5" stroke-width="0.3" />
<line x1="93.72" y1="503.80" x2="93.72" y2="504.60" stroke="#b5b5b5" stroke-width="0.3" />
<line x1="29.80" y1="438.60" x2="31.30" y2="438.60" stroke="#999" stroke-width="0.5" />
<line x1="97.00" y1="503.80" x2="97.00" y2="505.30" stroke="#999" stroke-width="0.5" />
<text x="29.10" y="439.70" font-size="3.2" text-anchor="end" fill="#555">10<tspan dy="-1.1" font-size="2.3">4</tspan></text>
<text x="97.50" y="509.20" font-size="3.2" text-anchor="middle" fill="#555">4000</text>
<text x="32.90" y="442.20" font-size="2.8" fill="#777">1.18</text>
<text x="95.60" y="442.20" font-size="2.8" text-anchor="end" fill="#777">0.09</text>
<text x="32.90" y="502.40" font-size="2.8" fill="#777">82.1</text>
<text x="95.60" y="502.40" font-size="2.8" text-anchor="end" fill="#777">16.6</text>
<text x="66.30" y="456.00" font-size="7.2" font-style="italic" fill="#1c1c1c" textLength="25.80" lengthAdjust="spacingAndGlyphs">Ndn null</text>
<text transform="translate(15.70 477.00) rotate(-90)" font-size="7.6" fill="#383838" textLength="39.50" lengthAdjust="spacingAndGlyphs">FITC-isotype</text>
<path d="M13.0 483.0V518.3H62.0" stroke="#505050" stroke-width="1" fill="none"/>
<path d="M11.2 484.2l1.8 -3.2l1.8 3.2z" fill="#505050"/>
<path d="M60.8 516.5l3.2 1.8l-3.2 1.8z" fill="#505050"/>
<text x="67.00" y="519.60" font-size="7.6" fill="#1c1c1c" textLength="26.00" lengthAdjust="spacingAndGlyphs">Hoechst</text>
<path d="M145.1 472.6h.6M147.8 474.0h.6M147.6 468.1h.6M146.6 468.4h.6M144.6 470.4h.6M147.3 469.3h.6M145.8 466.2h.6M146.1 467.8h.6M146.2 471.9h.6M143.5 473.7h.6M144.5 468.8h.6M144.7 476.8h.6M147.0 470.8h.6M145.3 465.4h.6M145.7 471.5h.6M146.1 472.9h.6M145.8 478.0h.6M147.0 477.0h.6M146.5 468.6h.6M145.2 474.8h.6M147.4 468.8h.6M146.7 468.2h.6M145.7 469.6h.6M144.0 469.2h.6M146.2 470.4h.6M147.5 470.6h.6M146.7 469.4h.6M143.5 474.2h.6M145.1 473.6h.6M145.9 469.1h.6M145.6 469.8h.6M143.9 466.9h.6M147.6 469.6h.6M145.7 469.3h.6M145.8 484.0h.6M146.8 469.1h.6M145.4 461.5h.6M146.3 475.4h.6M147.3 469.4h.6M145.5 466.2h.6M146.3 468.1h.6M144.8 478.8h.6M145.1 469.4h.6M143.3 481.3h.6M146.0 470.0h.6M146.5 466.0h.6M145.4 472.3h.6M145.2 472.8h.6M147.6 470.9h.6M147.9 471.8h.6M148.3 468.0h.6M146.7 464.7h.6M146.0 467.3h.6M146.1 465.8h.6M146.6 480.0h.6M145.3 473.7h.6M146.9 465.8h.6M145.8 468.4h.6M146.7 466.6h.6M149.3 468.8h.6M147.6 476.8h.6M147.8 467.1h.6M146.6 469.5h.6M146.5 473.5h.6M143.8 466.7h.6M145.8 472.4h.6M145.6 470.1h.6M147.5 470.8h.6M146.1 468.8h.6M144.4 474.6h.6M146.3 465.8h.6M146.8 467.5h.6M145.8 463.7h.6M147.2 465.2h.6M146.5 470.3h.6M145.5 470.6h.6M145.9 469.3h.6M146.4 466.9h.6M146.9 469.1h.6M144.7 473.6h.6M146.0 475.8h.6M141.7 479.1h.6M141.9 475.2h.6M153.8 469.4h.6M149.1 467.4h.6M144.3 474.6h.6M147.7 471.5h.6M145.3 470.1h.6M145.9 481.0h.6M146.8 471.1h.6M146.2 468.9h.6M143.9 476.2h.6M149.8 472.5h.6M143.8 482.6h.6M147.5 481.0h.6M146.6 467.0h.6M147.4 471.7h.6M144.5 471.6h.6M146.0 469.7h.6M148.3 473.1h.6M145.9 472.2h.6M148.9 473.0h.6M144.3 476.5h.6M150.8 470.9h.6M145.1 481.7h.6M152.5 468.7h.6M141.9 470.9h.6M151.1 468.5h.6M148.6 474.2h.6M147.4 480.5h.6M147.6 475.5h.6M147.9 473.7h.6M152.6 463.2h.6M144.5 480.7h.6M144.4 476.5h.6M151.6 466.8h.6M156.3 463.4h.6M153.0 463.6h.6M146.0 469.9h.6M158.1 460.9h.6M156.5 461.0h.6M155.9 466.0h.6M153.5 462.6h.6M159.4 460.6h.6M153.5 467.0h.6M163.8 456.7h.6M164.5 454.1h.6M163.2 454.4h.6M158.0 460.6h.6M154.6 464.2h.6M151.8 463.1h.6M151.1 468.2h.6M153.5 464.3h.6M155.2 464.7h.6M151.5 463.0h.6M153.3 464.1h.6M152.7 465.0h.6M158.7 462.6h.6M158.7 463.4h.6M154.7 461.9h.6M153.1 462.4h.6M150.2 466.4h.6M156.7 457.4h.6M155.7 460.8h.6M152.1 463.9h.6" stroke="#666" stroke-width=".6" stroke-opacity=".5" fill="none"/>
<rect x="129.50" y="437.60" width="66.80" height="66.20" fill="none" stroke="#adadad" stroke-width="0.6" />
<line x1="150.80" y1="437.60" x2="150.80" y2="503.80" stroke="#adadad" stroke-width="0.55" />
<line x1="129.50" y1="476.30" x2="196.30" y2="476.30" stroke="#adadad" stroke-width="0.55" />
<line x1="128.00" y1="503.80" x2="129.50" y2="503.80" stroke="#999" stroke-width="0.5" />
<line x1="129.50" y1="503.80" x2="129.50" y2="505.30" stroke="#999" stroke-width="0.5" />
<text x="127.30" y="504.90" font-size="3.2" text-anchor="end" fill="#555">10<tspan dy="-1.1" font-size="2.3">0</tspan></text>
<text x="130.00" y="509.20" font-size="3.2" text-anchor="middle" fill="#555">0</text>
<line x1="128.70" y1="498.82" x2="129.50" y2="498.82" stroke="#b5b5b5" stroke-width="0.3" />
<line x1="128.70" y1="495.90" x2="129.50" y2="495.90" stroke="#b5b5b5" stroke-width="0.3" />
<line x1="128.70" y1="493.84" x2="129.50" y2="493.84" stroke="#b5b5b5" stroke-width="0.3" />
<line x1="128.70" y1="492.23" x2="129.50" y2="492.23" stroke="#b5b5b5" stroke-width="0.3" />
<line x1="128.70" y1="490.92" x2="129.50" y2="490.92" stroke="#b5b5b5" stroke-width="0.3" />
<line x1="128.70" y1="489.81" x2="129.50" y2="489.81" stroke="#b5b5b5" stroke-width="0.3" />
<line x1="128.70" y1="488.85" x2="129.50" y2="488.85" stroke="#b5b5b5" stroke-width="0.3" />
<line x1="128.70" y1="488.01" x2="129.50" y2="488.01" stroke="#b5b5b5" stroke-width="0.3" />
<line x1="132.84" y1="503.80" x2="132.84" y2="504.60" stroke="#b5b5b5" stroke-width="0.3" />
<line x1="136.18" y1="503.80" x2="136.18" y2="504.60" stroke="#b5b5b5" stroke-width="0.3" />
<line x1="139.52" y1="503.80" x2="139.52" y2="504.60" stroke="#b5b5b5" stroke-width="0.3" />
<line x1="142.86" y1="503.80" x2="142.86" y2="504.60" stroke="#b5b5b5" stroke-width="0.3" />
<line x1="128.00" y1="487.25" x2="129.50" y2="487.25" stroke="#999" stroke-width="0.5" />
<line x1="146.20" y1="503.80" x2="146.20" y2="505.30" stroke="#999" stroke-width="0.5" />
<text x="127.30" y="488.35" font-size="3.2" text-anchor="end" fill="#555">10<tspan dy="-1.1" font-size="2.3">1</tspan></text>
<text x="146.70" y="509.20" font-size="3.2" text-anchor="middle" fill="#555">1000</text>
<line x1="128.70" y1="482.27" x2="129.50" y2="482.27" stroke="#b5b5b5" stroke-width="0.3" />
<line x1="128.70" y1="479.35" x2="129.50" y2="479.35" stroke="#b5b5b5" stroke-width="0.3" />
<line x1="128.70" y1="477.29" x2="129.50" y2="477.29" stroke="#b5b5b5" stroke-width="0.3" />
<line x1="128.70" y1="475.68" x2="129.50" y2="475.68" stroke="#b5b5b5" stroke-width="0.3" />
<line x1="128.70" y1="474.37" x2="129.50" y2="474.37" stroke="#b5b5b5" stroke-width="0.3" />
<line x1="128.70" y1="473.26" x2="129.50" y2="473.26" stroke="#b5b5b5" stroke-width="0.3" />
<line x1="128.70" y1="472.30" x2="129.50" y2="472.30" stroke="#b5b5b5" stroke-width="0.3" />
<line x1="128.70" y1="471.46" x2="129.50" y2="471.46" stroke="#b5b5b5" stroke-width="0.3" />
<line x1="149.54" y1="503.80" x2="149.54" y2="504.60" stroke="#b5b5b5" stroke-width="0.3" />
<line x1="152.88" y1="503.80" x2="152.88" y2="504.60" stroke="#b5b5b5" stroke-width="0.3" />
<line x1="156.22" y1="503.80" x2="156.22" y2="504.60" stroke="#b5b5b5" stroke-width="0.3" />
<line x1="159.56" y1="503.80" x2="159.56" y2="504.60" stroke="#b5b5b5" stroke-width="0.3" />
<line x1="128.00" y1="470.70" x2="129.50" y2="470.70" stroke="#999" stroke-width="0.5" />
<line x1="162.90" y1="503.80" x2="162.90" y2="505.30" stroke="#999" stroke-width="0.5" />
<text x="127.30" y="471.80" font-size="3.2" text-anchor="end" fill="#555">10<tspan dy="-1.1" font-size="2.3">2</tspan></text>
<text x="163.40" y="509.20" font-size="3.2" text-anchor="middle" fill="#555">2000</text>
<line x1="128.70" y1="465.72" x2="129.50" y2="465.72" stroke="#b5b5b5" stroke-width="0.3" />
<line x1="128.70" y1="462.80" x2="129.50" y2="462.80" stroke="#b5b5b5" stroke-width="0.3" />
<line x1="128.70" y1="460.74" x2="129.50" y2="460.74" stroke="#b5b5b5" stroke-width="0.3" />
<line x1="128.70" y1="459.13" x2="129.50" y2="459.13" stroke="#b5b5b5" stroke-width="0.3" />
<line x1="128.70" y1="457.82" x2="129.50" y2="457.82" stroke="#b5b5b5" stroke-width="0.3" />
<line x1="128.70" y1="456.71" x2="129.50" y2="456.71" stroke="#b5b5b5" stroke-width="0.3" />
<line x1="128.70" y1="455.75" x2="129.50" y2="455.75" stroke="#b5b5b5" stroke-width="0.3" />
<line x1="128.70" y1="454.91" x2="129.50" y2="454.91" stroke="#b5b5b5" stroke-width="0.3" />
<line x1="166.24" y1="503.80" x2="166.24" y2="504.60" stroke="#b5b5b5" stroke-width="0.3" />
<line x1="169.58" y1="503.80" x2="169.58" y2="504.60" stroke="#b5b5b5" stroke-width="0.3" />
<line x1="172.92" y1="503.80" x2="172.92" y2="504.60" stroke="#b5b5b5" stroke-width="0.3" />
<line x1="176.26" y1="503.80" x2="176.26" y2="504.60" stroke="#b5b5b5" stroke-width="0.3" />
<line x1="128.00" y1="454.15" x2="129.50" y2="454.15" stroke="#999" stroke-width="0.5" />
<line x1="179.60" y1="503.80" x2="179.60" y2="505.30" stroke="#999" stroke-width="0.5" />
<text x="127.30" y="455.25" font-size="3.2" text-anchor="end" fill="#555">10<tspan dy="-1.1" font-size="2.3">3</tspan></text>
<text x="180.10" y="509.20" font-size="3.2" text-anchor="middle" fill="#555">3000</text>
<line x1="128.70" y1="449.17" x2="129.50" y2="449.17" stroke="#b5b5b5" stroke-width="0.3" />
<line x1="128.70" y1="446.25" x2="129.50" y2="446.25" stroke="#b5b5b5" stroke-width="0.3" />
<line x1="128.70" y1="444.19" x2="129.50" y2="444.19" stroke="#b5b5b5" stroke-width="0.3" />
<line x1="128.70" y1="442.58" x2="129.50" y2="442.58" stroke="#b5b5b5" stroke-width="0.3" />
<line x1="128.70" y1="441.27" x2="129.50" y2="441.27" stroke="#b5b5b5" stroke-width="0.3" />
<line x1="128.70" y1="440.16" x2="129.50" y2="440.16" stroke="#b5b5b5" stroke-width="0.3" />
<line x1="128.70" y1="439.20" x2="129.50" y2="439.20" stroke="#b5b5b5" stroke-width="0.3" />
<line x1="128.70" y1="438.36" x2="129.50" y2="438.36" stroke="#b5b5b5" stroke-width="0.3" />
<line x1="182.94" y1="503.80" x2="182.94" y2="504.60" stroke="#b5b5b5" stroke-width="0.3" />
<line x1="186.28" y1="503.80" x2="186.28" y2="504.60" stroke="#b5b5b5" stroke-width="0.3" />
<line x1="189.62" y1="503.80" x2="189.62" y2="504.60" stroke="#b5b5b5" stroke-width="0.3" />
<line x1="192.96" y1="503.80" x2="192.96" y2="504.60" stroke="#b5b5b5" stroke-width="0.3" />
<line x1="128.00" y1="437.60" x2="129.50" y2="437.60" stroke="#999" stroke-width="0.5" />
<line x1="196.30" y1="503.80" x2="196.30" y2="505.30" stroke="#999" stroke-width="0.5" />
<text x="127.30" y="438.70" font-size="3.2" text-anchor="end" fill="#555">10<tspan dy="-1.1" font-size="2.3">4</tspan></text>
<text x="196.80" y="509.20" font-size="3.2" text-anchor="middle" fill="#555">4000</text>
<text x="131.10" y="441.20" font-size="2.8" fill="#777">68.9</text>
<text x="194.90" y="441.20" font-size="2.8" text-anchor="end" fill="#777">15.1</text>
<text x="131.10" y="502.40" font-size="2.8" fill="#777">14.9</text>
<text x="194.90" y="502.40" font-size="2.8" text-anchor="end" fill="#777">1.13</text>
<text x="162.50" y="456.00" font-size="7.2" font-style="italic" fill="#1c1c1c" textLength="26.20" lengthAdjust="spacingAndGlyphs">Ndn null</text>
<text x="137.00" y="494.30" font-size="6.1" fill="#2a2a2a" textLength="35.50" lengthAdjust="spacingAndGlyphs">G0: 14.9 ± 1.2</text>
<text transform="translate(117.70 475.20) rotate(-90)" font-size="7.6" fill="#383838" textLength="32.80" lengthAdjust="spacingAndGlyphs">FITC-Ki67</text>
<path d="M115.0 483.0V518.0H163.5" stroke="#505050" stroke-width="1" fill="none"/>
<path d="M113.2 484.2l1.8 -3.2l1.8 3.2z" fill="#505050"/>
<path d="M162.3 516.2l3.2 1.8l-3.2 1.8z" fill="#505050"/>
<text x="169.50" y="519.30" font-size="7.6" fill="#1c1c1c" textLength="25.50" lengthAdjust="spacingAndGlyphs">Hoechst</text>
<line x1="296.00" y1="359.15" x2="296.00" y2="491.05" stroke="#000" stroke-width="1.75" />
<line x1="295.15" y1="490.20" x2="492.50" y2="490.20" stroke="#000" stroke-width="1.75" />
<line x1="291.20" y1="490.20" x2="296.00" y2="490.20" stroke="#000" stroke-width="1.6" />
<text x="291.20" y="494.60" font-size="9.6" text-anchor="end" textLength="4.90" lengthAdjust="spacingAndGlyphs">0</text>
<line x1="291.20" y1="446.80" x2="296.00" y2="446.80" stroke="#000" stroke-width="1.6" />
<text x="291.20" y="451.20" font-size="9.6" text-anchor="end" textLength="9.80" lengthAdjust="spacingAndGlyphs">10</text>
<line x1="291.20" y1="403.40" x2="296.00" y2="403.40" stroke="#000" stroke-width="1.6" />
<text x="291.20" y="407.80" font-size="9.6" text-anchor="end" textLength="9.80" lengthAdjust="spacingAndGlyphs">20</text>
<line x1="291.20" y1="360.00" x2="296.00" y2="360.00" stroke="#000" stroke-width="1.6" />
<text x="291.20" y="364.40" font-size="9.6" text-anchor="end" textLength="9.80" lengthAdjust="spacingAndGlyphs">30</text>
<text transform="translate(270.20 464.70) rotate(-90)" font-size="10.2" textLength="79.50" lengthAdjust="spacingAndGlyphs">HSCs in G0 ( %)</text>
<line x1="345.50" y1="490.20" x2="345.50" y2="494.80" stroke="#000" stroke-width="1.6" />
<line x1="443.40" y1="490.20" x2="443.40" y2="494.80" stroke="#000" stroke-width="1.6" />
<text transform="translate(347.70 504.40) rotate(-45)" font-size="9.6" text-anchor="end">WT</text>
<text transform="translate(446.40 504.80) rotate(-45)" font-size="9.6" text-anchor="end">Ndn null</text>
<circle cx="345.50" cy="378.80" r="2.45"/>
<circle cx="345.50" cy="400.70" r="2.45"/>
<circle cx="325.90" cy="424.20" r="2.45"/>
<circle cx="365.30" cy="423.20" r="2.45"/>
<circle cx="357.30" cy="426.50" r="2.45"/>
<circle cx="333.80" cy="428.10" r="2.45"/>
<circle cx="349.60" cy="428.10" r="2.45"/>
<circle cx="341.60" cy="429.60" r="2.45"/>
<circle cx="333.80" cy="440.80" r="2.45"/>
<circle cx="341.60" cy="441.20" r="2.45"/>
<circle cx="357.30" cy="441.20" r="2.45"/>
<circle cx="349.60" cy="443.50" r="2.45"/>
<circle cx="337.60" cy="447.60" r="2.45"/>
<circle cx="353.50" cy="452.20" r="2.45"/>
<circle cx="345.50" cy="455.50" r="2.45"/>
<line x1="312.20" y1="430.80" x2="378.80" y2="430.80" stroke="#000" stroke-width="1.1" />
<line x1="328.40" y1="425.80" x2="362.70" y2="425.80" stroke="#000" stroke-width="1.1" />
<line x1="328.40" y1="436.10" x2="362.70" y2="436.10" stroke="#000" stroke-width="1.1" />
<line x1="345.50" y1="425.80" x2="345.50" y2="436.10" stroke="#000" stroke-width="1.1" />
<rect x="440.95" y="373.65" width="4.90" height="4.90"/>
<rect x="440.95" y="394.85" width="4.90" height="4.90"/>
<rect x="444.95" y="408.35" width="4.90" height="4.90"/>
<rect x="436.95" y="409.45" width="4.90" height="4.90"/>
<rect x="428.95" y="420.75" width="4.90" height="4.90"/>
<rect x="452.95" y="420.75" width="4.90" height="4.90"/>
<rect x="436.95" y="422.85" width="4.90" height="4.90"/>
<rect x="444.95" y="424.85" width="4.90" height="4.90"/>
<rect x="432.95" y="432.05" width="4.90" height="4.90"/>
<rect x="448.95" y="432.05" width="4.90" height="4.90"/>
<rect x="440.95" y="432.85" width="4.90" height="4.90"/>
<rect x="436.95" y="435.15" width="4.90" height="4.90"/>
<rect x="444.95" y="441.75" width="4.90" height="4.90"/>
<rect x="444.95" y="450.75" width="4.90" height="4.90"/>
<rect x="436.95" y="453.65" width="4.90" height="4.90"/>
<line x1="410.00" y1="425.80" x2="476.50" y2="425.80" stroke="#000" stroke-width="1.1" />
<line x1="426.50" y1="420.40" x2="460.00" y2="420.40" stroke="#000" stroke-width="1.1" />
<line x1="426.50" y1="431.20" x2="460.00" y2="431.20" stroke="#000" stroke-width="1.1" />
<line x1="443.40" y1="420.40" x2="443.40" y2="431.20" stroke="#000" stroke-width="1.1" />
<line x1="33.40" y1="554.20" x2="33.40" y2="651.30" stroke="#000" stroke-width="1.65" />
<line x1="32.60" y1="650.50" x2="177.00" y2="650.50" stroke="#000" stroke-width="1.65" />
<line x1="29.20" y1="650.50" x2="33.40" y2="650.50" stroke="#000" stroke-width="1.4" />
<text x="29.20" y="653.20" font-size="7.5" text-anchor="end">0</text>
<line x1="29.20" y1="631.40" x2="33.40" y2="631.40" stroke="#000" stroke-width="1.4" />
<text x="29.20" y="634.10" font-size="7.5" text-anchor="end">2</text>
<line x1="29.20" y1="612.30" x2="33.40" y2="612.30" stroke="#000" stroke-width="1.4" />
<text x="29.20" y="615.00" font-size="7.5" text-anchor="end">4</text>
<line x1="29.20" y1="593.20" x2="33.40" y2="593.20" stroke="#000" stroke-width="1.4" />
<text x="29.20" y="595.90" font-size="7.5" text-anchor="end">6</text>
<line x1="29.20" y1="574.10" x2="33.40" y2="574.10" stroke="#000" stroke-width="1.4" />
<text x="29.20" y="576.80" font-size="7.5" text-anchor="end">8</text>
<line x1="29.20" y1="555.00" x2="33.40" y2="555.00" stroke="#000" stroke-width="1.4" />
<text x="29.20" y="557.70" font-size="7.5" text-anchor="end">10</text>
<text transform="translate(13.60 638.00) rotate(-90)" font-size="7.8" textLength="68.50" lengthAdjust="spacingAndGlyphs">Apoptotic HSCs (%)</text>
<line x1="69.30" y1="650.50" x2="69.30" y2="654.10" stroke="#000" stroke-width="1.3" />
<line x1="140.50" y1="650.50" x2="140.50" y2="654.10" stroke="#000" stroke-width="1.3" />
<text transform="translate(70.40 659.90) rotate(-45)" font-size="7" text-anchor="end">WT</text>
<text transform="translate(142.00 659.90) rotate(-45)" font-size="7" text-anchor="end">Ndn null</text>
<circle cx="69.30" cy="575.50" r="1.90"/>
<circle cx="69.30" cy="592.50" r="1.90"/>
<circle cx="69.30" cy="610.00" r="1.90"/>
<circle cx="63.80" cy="629.30" r="1.90"/>
<circle cx="69.30" cy="629.30" r="1.90"/>
<circle cx="75.00" cy="627.50" r="1.90"/>
<circle cx="69.30" cy="638.80" r="1.90"/>
<line x1="45.00" y1="614.50" x2="93.80" y2="614.50" stroke="#000" stroke-width="1.15" />
<line x1="57.00" y1="605.80" x2="81.30" y2="605.80" stroke="#000" stroke-width="1.15" />
<line x1="57.00" y1="623.30" x2="81.30" y2="623.30" stroke="#000" stroke-width="1.15" />
<line x1="69.30" y1="605.80" x2="69.30" y2="623.30" stroke="#000" stroke-width="1.15" />
<rect x="138.70" y="584.50" width="3.60" height="3.60"/>
<rect x="135.70" y="605.00" width="3.60" height="3.60"/>
<rect x="141.50" y="606.50" width="3.60" height="3.60"/>
<rect x="138.70" y="615.70" width="3.60" height="3.60"/>
<rect x="138.70" y="628.20" width="3.60" height="3.60"/>
<rect x="141.50" y="638.20" width="3.60" height="3.60"/>
<rect x="135.70" y="643.70" width="3.60" height="3.60"/>
<line x1="116.30" y1="618.80" x2="164.50" y2="618.80" stroke="#000" stroke-width="1.15" />
<line x1="128.00" y1="611.30" x2="152.50" y2="611.30" stroke="#000" stroke-width="1.15" />
<line x1="128.00" y1="627.00" x2="152.50" y2="627.00" stroke="#000" stroke-width="1.15" />
<line x1="140.50" y1="611.30" x2="140.50" y2="627.00" stroke="#000" stroke-width="1.15" />
<line x1="227.50" y1="568.60" x2="227.50" y2="645.50" stroke="#111" stroke-width="1.45" />
<line x1="226.80" y1="644.80" x2="342.00" y2="644.80" stroke="#111" stroke-width="1.45" />
<line x1="224.90" y1="644.80" x2="227.50" y2="644.80" stroke="#111" stroke-width="1.2" />
<text x="224.70" y="646.90" font-size="5.8" font-weight="bold" text-anchor="end">0</text>
<line x1="224.90" y1="625.92" x2="227.50" y2="625.92" stroke="#111" stroke-width="1.2" />
<text x="224.70" y="628.02" font-size="5.8" font-weight="bold" text-anchor="end">5</text>
<line x1="224.90" y1="607.05" x2="227.50" y2="607.05" stroke="#111" stroke-width="1.2" />
<text x="224.70" y="609.15" font-size="5.8" font-weight="bold" text-anchor="end">10</text>
<line x1="224.90" y1="588.17" x2="227.50" y2="588.17" stroke="#111" stroke-width="1.2" />
<text x="224.70" y="590.27" font-size="5.8" font-weight="bold" text-anchor="end">15</text>
<line x1="224.90" y1="569.30" x2="227.50" y2="569.30" stroke="#111" stroke-width="1.2" />
<text x="224.70" y="571.40" font-size="5.8" font-weight="bold" text-anchor="end">20</text>
<text x="267.20" y="560.80" font-size="7.1" font-weight="bold" textLength="25.70" lengthAdjust="spacingAndGlyphs">CFU-S8</text>
<text transform="translate(216.00 619.20) rotate(-90)" font-size="6.1" font-weight="bold" textLength="24.60" lengthAdjust="spacingAndGlyphs">Colonies</text>
<line x1="256.10" y1="591.40" x2="256.10" y2="594.90" stroke="#111" stroke-width="1.4" />
<line x1="246.10" y1="591.40" x2="266.30" y2="591.40" stroke="#111" stroke-width="1.6" />
<rect x="237.30" y="595.60" width="37.60" height="49.20" fill="url(#gry)" stroke="#111" stroke-width="1.5" />
<line x1="256.10" y1="644.80" x2="256.10" y2="647.20" stroke="#111" stroke-width="1.1" />
<line x1="312.90" y1="588.60" x2="312.90" y2="591.40" stroke="#111" stroke-width="1.4" />
<line x1="303.00" y1="588.60" x2="323.20" y2="588.60" stroke="#111" stroke-width="1.6" />
<rect x="294.40" y="592.10" width="37.00" height="52.70" fill="url(#chs)" stroke="#111" stroke-width="1.5" />
<line x1="312.90" y1="644.80" x2="312.90" y2="647.20" stroke="#111" stroke-width="1.1" />
<text transform="translate(257.60 651.80) rotate(-45)" font-size="5.4" font-weight="bold" text-anchor="end">WT</text>
<text transform="translate(314.60 652.60) rotate(-45)" font-size="5.4" font-weight="bold" text-anchor="end">Ndn null</text>
<line x1="360.80" y1="568.60" x2="360.80" y2="645.50" stroke="#111" stroke-width="1.45" />
<line x1="360.10" y1="644.80" x2="475.50" y2="644.80" stroke="#111" stroke-width="1.45" />
<line x1="358.20" y1="644.80" x2="360.80" y2="644.80" stroke="#111" stroke-width="1.2" />
<text x="358.00" y="646.90" font-size="5.8" font-weight="bold" text-anchor="end">0</text>
<line x1="358.20" y1="625.92" x2="360.80" y2="625.92" stroke="#111" stroke-width="1.2" />
<text x="358.00" y="628.02" font-size="5.8" font-weight="bold" text-anchor="end">5</text>
<line x1="358.20" y1="607.05" x2="360.80" y2="607.05" stroke="#111" stroke-width="1.2" />
<text x="358.00" y="609.15" font-size="5.8" font-weight="bold" text-anchor="end">10</text>
<line x1="358.20" y1="588.17" x2="360.80" y2="588.17" stroke="#111" stroke-width="1.2" />
<text x="358.00" y="590.27" font-size="5.8" font-weight="bold" text-anchor="end">15</text>
<line x1="358.20" y1="569.30" x2="360.80" y2="569.30" stroke="#111" stroke-width="1.2" />
<text x="358.00" y="571.40" font-size="5.8" font-weight="bold" text-anchor="end">20</text>
<text x="398.40" y="560.80" font-size="7.1" font-weight="bold" textLength="29.30" lengthAdjust="spacingAndGlyphs">CFU-S12</text>
<text transform="translate(349.50 619.20) rotate(-90)" font-size="6.1" font-weight="bold" textLength="24.60" lengthAdjust="spacingAndGlyphs">Colonies</text>
<line x1="389.65" y1="591.60" x2="389.65" y2="593.50" stroke="#111" stroke-width="1.4" />
<line x1="379.70" y1="591.60" x2="399.60" y2="591.60" stroke="#111" stroke-width="1.6" />
<rect x="370.70" y="594.20" width="37.90" height="50.60" fill="url(#gry)" stroke="#111" stroke-width="1.5" />
<line x1="389.65" y1="644.80" x2="389.65" y2="647.20" stroke="#111" stroke-width="1.1" />
<line x1="446.20" y1="589.30" x2="446.20" y2="592.20" stroke="#111" stroke-width="1.4" />
<line x1="436.00" y1="589.30" x2="456.70" y2="589.30" stroke="#111" stroke-width="1.6" />
<rect x="427.10" y="592.90" width="38.20" height="51.90" fill="url(#chs)" stroke="#111" stroke-width="1.5" />
<line x1="446.20" y1="644.80" x2="446.20" y2="647.20" stroke="#111" stroke-width="1.1" />
<text transform="translate(391.00 651.80) rotate(-45)" font-size="5.4" font-weight="bold" text-anchor="end">WT</text>
<text transform="translate(447.80 652.80) rotate(-45)" font-size="5.4" font-weight="bold" text-anchor="end">Ndn null</text>
<rect x="482.60" y="573.30" width="8.00" height="2.80" fill="url(#gry)" stroke="#111" stroke-width="2.2" />
<rect x="482.60" y="582.20" width="8.00" height="2.80" fill="url(#chs)" stroke="#111" stroke-width="2.2" />
<text x="495.40" y="577.00" font-size="5.8" fill="#111" textLength="8.70" lengthAdjust="spacingAndGlyphs">WT</text>
<text x="495.40" y="586.00" font-size="5.8" fill="#111" textLength="21.30" lengthAdjust="spacingAndGlyphs">Ndn null</text>
</svg>
</body>
</html>
